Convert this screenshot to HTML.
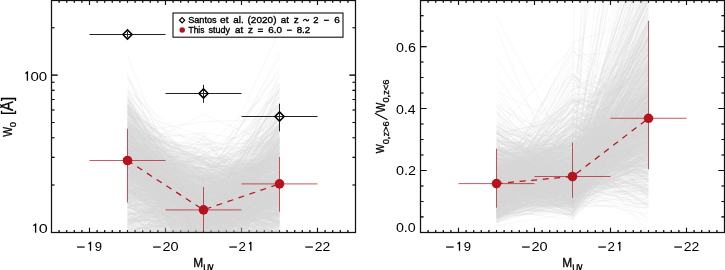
<!DOCTYPE html><html><head><meta charset="utf-8"><style>
html,body{margin:0;padding:0;background:#fff;width:725px;height:270px;overflow:hidden}
svg{display:block;will-change:transform}text{font-family:"Liberation Sans",sans-serif;fill:#000}
</style></head><body>
<svg width="725" height="270" viewBox="0 0 725 270">
<rect width="725" height="270" fill="#fff"/>
<defs>
<clipPath id="c0"><rect x="51.5" y="0.1" width="304.0" height="232.3"/></clipPath>
<clipPath id="g0"><rect x="51.5" y="1" width="304.0" height="231"/></clipPath>
<clipPath id="c1"><rect x="420.5" y="0.1" width="304.0" height="232.3"/></clipPath>
<clipPath id="g1"><rect x="420.5" y="1" width="304.0" height="231"/></clipPath>
</defs>
<path d="M59.10 232.4v-2.3M59.10 0.5v2.3M66.70 232.4v-2.3M66.70 0.5v2.3M74.30 232.4v-2.3M74.30 0.5v2.3M81.90 232.4v-2.3M81.90 0.5v2.3M89.50 232.4v-4.6M89.50 0.5v4.6M97.10 232.4v-2.3M97.10 0.5v2.3M104.70 232.4v-2.3M104.70 0.5v2.3M112.30 232.4v-2.3M112.30 0.5v2.3M119.90 232.4v-2.3M119.90 0.5v2.3M127.50 232.4v-2.3M127.50 0.5v2.3M135.10 232.4v-2.3M135.10 0.5v2.3M142.70 232.4v-2.3M142.70 0.5v2.3M150.30 232.4v-2.3M150.30 0.5v2.3M157.90 232.4v-2.3M157.90 0.5v2.3M165.50 232.4v-4.6M165.50 0.5v4.6M173.10 232.4v-2.3M173.10 0.5v2.3M180.70 232.4v-2.3M180.70 0.5v2.3M188.30 232.4v-2.3M188.30 0.5v2.3M195.90 232.4v-2.3M195.90 0.5v2.3M203.50 232.4v-2.3M203.50 0.5v2.3M211.10 232.4v-2.3M211.10 0.5v2.3M218.70 232.4v-2.3M218.70 0.5v2.3M226.30 232.4v-2.3M226.30 0.5v2.3M233.90 232.4v-2.3M233.90 0.5v2.3M241.50 232.4v-4.6M241.50 0.5v4.6M249.10 232.4v-2.3M249.10 0.5v2.3M256.70 232.4v-2.3M256.70 0.5v2.3M264.30 232.4v-2.3M264.30 0.5v2.3M271.90 232.4v-2.3M271.90 0.5v2.3M279.50 232.4v-2.3M279.50 0.5v2.3M287.10 232.4v-2.3M287.10 0.5v2.3M294.70 232.4v-2.3M294.70 0.5v2.3M302.30 232.4v-2.3M302.30 0.5v2.3M309.90 232.4v-2.3M309.90 0.5v2.3M317.50 232.4v-4.6M317.50 0.5v4.6M325.10 232.4v-2.3M325.10 0.5v2.3M332.70 232.4v-2.3M332.70 0.5v2.3M340.30 232.4v-2.3M340.30 0.5v2.3M347.90 232.4v-2.3M347.90 0.5v2.3M51.5 75.10h6.1M355.5 75.10h-6.1M51.5 185.05h3M355.5 185.05h-3M51.5 157.35h3M355.5 157.35h-3M51.5 137.70h3M355.5 137.70h-3M51.5 122.45h3M355.5 122.45h-3M51.5 110.00h3M355.5 110.00h-3M51.5 99.47h3M355.5 99.47h-3M51.5 90.34h3M355.5 90.34h-3M51.5 82.30h3M355.5 82.30h-3M51.5 27.75h3M355.5 27.75h-3" stroke="#111" stroke-width="1.1" fill="none"/>
<path d="M428.10 232.4v-2.3M428.10 0.5v2.3M435.70 232.4v-2.3M435.70 0.5v2.3M443.30 232.4v-2.3M443.30 0.5v2.3M450.90 232.4v-2.3M450.90 0.5v2.3M458.50 232.4v-4.6M458.50 0.5v4.6M466.10 232.4v-2.3M466.10 0.5v2.3M473.70 232.4v-2.3M473.70 0.5v2.3M481.30 232.4v-2.3M481.30 0.5v2.3M488.90 232.4v-2.3M488.90 0.5v2.3M496.50 232.4v-2.3M496.50 0.5v2.3M504.10 232.4v-2.3M504.10 0.5v2.3M511.70 232.4v-2.3M511.70 0.5v2.3M519.30 232.4v-2.3M519.30 0.5v2.3M526.90 232.4v-2.3M526.90 0.5v2.3M534.50 232.4v-4.6M534.50 0.5v4.6M542.10 232.4v-2.3M542.10 0.5v2.3M549.70 232.4v-2.3M549.70 0.5v2.3M557.30 232.4v-2.3M557.30 0.5v2.3M564.90 232.4v-2.3M564.90 0.5v2.3M572.50 232.4v-2.3M572.50 0.5v2.3M580.10 232.4v-2.3M580.10 0.5v2.3M587.70 232.4v-2.3M587.70 0.5v2.3M595.30 232.4v-2.3M595.30 0.5v2.3M602.90 232.4v-2.3M602.90 0.5v2.3M610.50 232.4v-4.6M610.50 0.5v4.6M618.10 232.4v-2.3M618.10 0.5v2.3M625.70 232.4v-2.3M625.70 0.5v2.3M633.30 232.4v-2.3M633.30 0.5v2.3M640.90 232.4v-2.3M640.90 0.5v2.3M648.50 232.4v-2.3M648.50 0.5v2.3M656.10 232.4v-2.3M656.10 0.5v2.3M663.70 232.4v-2.3M663.70 0.5v2.3M671.30 232.4v-2.3M671.30 0.5v2.3M678.90 232.4v-2.3M678.90 0.5v2.3M686.50 232.4v-4.6M686.50 0.5v4.6M694.10 232.4v-2.3M694.10 0.5v2.3M701.70 232.4v-2.3M701.70 0.5v2.3M709.30 232.4v-2.3M709.30 0.5v2.3M716.90 232.4v-2.3M716.90 0.5v2.3M420.5 170.46h6.1M724.5 170.46h-6.1M420.5 108.52h6.1M724.5 108.52h-6.1M420.5 46.58h6.1M724.5 46.58h-6.1M420.5 216.92h3M724.5 216.92h-3M420.5 201.43h3M724.5 201.43h-3M420.5 185.94h3M724.5 185.94h-3M420.5 154.98h3M724.5 154.98h-3M420.5 139.49h3M724.5 139.49h-3M420.5 124.01h3M724.5 124.01h-3M420.5 93.03h3M724.5 93.03h-3M420.5 77.55h3M724.5 77.55h-3M420.5 62.06h3M724.5 62.06h-3M420.5 31.09h3M724.5 31.09h-3M420.5 15.61h3M724.5 15.61h-3" stroke="#111" stroke-width="1.1" fill="none"/>
<g clip-path="url(#g0)"><path d="M127.5 132.4L203.5 216.2L279.5 203.0M127.5 154.4L203.5 207.7L279.5 195.0M127.5 154.1L203.5 222.9L279.5 160.1M127.5 164.6L203.5 212.3L279.5 197.6M127.5 136.4L203.5 160.3L279.5 234.1M127.5 77.9L203.5 233.7L279.5 127.9M127.5 152.7L203.5 238.5L279.5 202.8M127.5 207.6L203.5 213.0L279.5 127.8M127.5 168.1L203.5 235.2L279.5 175.7M127.5 183.0L203.5 227.1L279.5 163.6M127.5 150.0L203.5 227.1L279.5 210.6M127.5 164.2L203.5 246.8L279.5 181.6M127.5 87.4L203.5 176.3L279.5 196.7M127.5 138.0L203.5 235.2L279.5 186.9M127.5 106.5L203.5 173.0L279.5 166.6M127.5 188.3L203.5 241.9L279.5 196.9M127.5 167.2L203.5 244.2L279.5 152.3M127.5 100.9L203.5 204.2L279.5 228.0M127.5 229.4L203.5 221.2L279.5 217.7M127.5 155.1L203.5 187.0L279.5 168.2M127.5 224.0L203.5 191.9L279.5 164.5M127.5 115.6L203.5 144.2L279.5 142.7M127.5 218.4L203.5 316.6L279.5 120.9M127.5 171.2L203.5 248.9L279.5 167.3M127.5 165.9L203.5 213.5L279.5 155.0M127.5 230.0L203.5 219.5L279.5 174.8M127.5 89.3L203.5 213.8L279.5 178.8M127.5 165.6L203.5 136.3L279.5 187.5M127.5 112.6L203.5 292.3L279.5 180.1M127.5 187.9L203.5 191.8L279.5 201.4M127.5 220.7L203.5 220.1L279.5 189.1M127.5 153.1L203.5 211.7L279.5 152.8M127.5 153.9L203.5 180.0L279.5 164.7M127.5 76.6L203.5 214.1L279.5 138.9M127.5 203.4L203.5 188.5L279.5 198.6M127.5 224.9L203.5 173.9L279.5 195.2M127.5 188.6L203.5 176.7L279.5 167.4M127.5 150.7L203.5 278.5L279.5 210.2M127.5 143.4L203.5 235.2L279.5 211.5M127.5 190.4L203.5 258.5L279.5 160.0M127.5 173.5L203.5 240.1L279.5 193.7M127.5 143.9L203.5 219.0L279.5 150.6M127.5 128.6L203.5 151.1L279.5 181.4M127.5 184.1L203.5 235.2L279.5 198.0M127.5 155.8L203.5 222.9L279.5 216.4M127.5 276.2L203.5 218.4L279.5 137.8M127.5 200.1L203.5 168.1L279.5 187.5M127.5 147.4L203.5 232.4L279.5 212.0M127.5 159.9L203.5 198.7L279.5 230.5M127.5 166.8L203.5 188.0L279.5 223.0M127.5 113.9L203.5 195.3L279.5 197.7M127.5 171.3L203.5 284.9L279.5 137.1M127.5 205.5L203.5 259.3L279.5 213.3M127.5 153.6L203.5 192.5L279.5 174.8M127.5 153.7L203.5 276.2L279.5 177.7M127.5 207.6L203.5 221.4L279.5 286.2M127.5 131.2L203.5 267.2L279.5 224.6M127.5 111.3L203.5 201.3L279.5 154.9M127.5 184.1L203.5 215.3L279.5 248.3M127.5 196.1L203.5 269.3L279.5 142.7M127.5 162.6L203.5 222.9L279.5 186.4M127.5 124.3L203.5 252.0L279.5 237.5M127.5 183.0L203.5 234.0L279.5 113.7M127.5 190.0L203.5 176.8L279.5 190.7M127.5 184.1L203.5 205.2L279.5 125.1M127.5 152.8L203.5 203.6L279.5 179.6M127.5 153.5L203.5 168.6L279.5 209.8M127.5 166.2L203.5 210.4L279.5 143.4M127.5 125.5L203.5 175.2L279.5 116.7M127.5 95.8L203.5 201.9L279.5 137.3M127.5 183.5L203.5 205.6L279.5 223.0M127.5 130.1L203.5 227.1L279.5 163.3M127.5 151.8L203.5 243.8L279.5 222.7M127.5 74.5L203.5 250.9L279.5 205.2M127.5 196.3L203.5 247.2L279.5 134.5M127.5 173.6L203.5 198.2L279.5 230.4M127.5 156.5L203.5 201.5L279.5 88.8M127.5 219.5L203.5 243.9L279.5 234.0M127.5 167.9L203.5 177.7L279.5 226.7M127.5 139.3L203.5 236.7L279.5 158.3M127.5 220.4L203.5 227.9L279.5 193.6M127.5 155.9L203.5 262.8L279.5 191.8M127.5 108.9L203.5 243.7L279.5 215.6M127.5 184.4L203.5 188.0L279.5 159.2M127.5 197.1L203.5 200.5L279.5 179.5M127.5 266.6L203.5 236.4L279.5 190.0M127.5 163.6L203.5 177.5L279.5 212.1M127.5 228.2L203.5 216.2L279.5 233.0M127.5 143.8L203.5 211.2L279.5 187.8M127.5 112.9L203.5 182.6L279.5 253.7M127.5 143.7L203.5 199.8L279.5 207.4M127.5 192.7L203.5 225.6L279.5 163.5M127.5 141.0L203.5 251.2L279.5 161.1M127.5 179.0L203.5 175.9L279.5 200.0M127.5 207.0L203.5 297.0L279.5 265.9M127.5 180.3L203.5 235.8L279.5 166.5M127.5 152.8L203.5 275.6L279.5 153.2M127.5 174.6L203.5 234.6L279.5 185.7M127.5 144.7L203.5 188.7L279.5 137.2M127.5 98.8L203.5 225.7L279.5 147.3M127.5 142.2L203.5 228.9L279.5 238.3M127.5 138.2L203.5 215.6L279.5 194.3M127.5 187.4L203.5 156.5L279.5 202.2M127.5 121.9L203.5 173.5L279.5 125.5M127.5 149.7L203.5 206.5L279.5 145.2M127.5 131.0L203.5 236.4L279.5 183.7M127.5 192.3L203.5 227.8L279.5 165.5M127.5 153.1L203.5 203.2L279.5 152.9M127.5 259.2L203.5 222.1L279.5 208.7M127.5 174.5L203.5 218.0L279.5 192.7M127.5 195.2L203.5 250.4L279.5 190.2M127.5 202.1L203.5 261.6L279.5 200.0M127.5 110.7L203.5 252.3L279.5 197.2M127.5 224.6L203.5 206.1L279.5 178.9M127.5 165.8L203.5 246.0L279.5 226.7M127.5 165.5L203.5 139.8L279.5 222.3M127.5 144.8L203.5 196.6L279.5 156.9M127.5 131.3L203.5 193.7L279.5 127.2M127.5 227.7L203.5 183.7L279.5 113.3M127.5 182.6L203.5 249.5L279.5 240.9M127.5 189.5L203.5 253.9L279.5 173.4M127.5 140.2L203.5 220.6L279.5 212.9M127.5 133.5L203.5 194.9L279.5 203.9M127.5 177.1L203.5 195.9L279.5 194.3M127.5 182.8L203.5 164.3L279.5 172.6M127.5 202.8L203.5 171.2L279.5 166.0M127.5 149.7L203.5 181.0L279.5 261.3M127.5 112.9L203.5 178.3L279.5 205.9M127.5 149.4L203.5 202.9L279.5 145.2M127.5 189.8L203.5 185.7L279.5 183.6M127.5 195.3L203.5 219.9L279.5 236.8M127.5 190.2L203.5 224.6L279.5 217.6M127.5 230.0L203.5 182.7L279.5 212.2M127.5 111.1L203.5 267.3L279.5 148.4M127.5 158.2L203.5 169.2L279.5 118.6M127.5 174.1L203.5 155.9L279.5 221.2M127.5 96.9L203.5 225.7L279.5 168.6M127.5 154.0L203.5 187.2L279.5 196.6M127.5 118.2L203.5 203.6L279.5 166.1M127.5 152.6L203.5 242.3L279.5 195.0M127.5 129.1L203.5 197.6L279.5 222.2M127.5 158.3L203.5 192.9L279.5 207.8M127.5 175.8L203.5 178.9L279.5 208.1M127.5 148.7L203.5 218.9L279.5 131.0M127.5 140.0L203.5 203.8L279.5 211.1M127.5 129.5L203.5 228.6L279.5 167.2M127.5 154.6L203.5 178.9L279.5 213.9M127.5 170.8L203.5 210.7L279.5 208.6M127.5 176.0L203.5 183.0L279.5 180.5M127.5 151.6L203.5 230.8L279.5 205.7M127.5 180.9L203.5 204.2L279.5 111.0M127.5 174.1L203.5 238.6L279.5 136.9M127.5 145.0L203.5 233.1L279.5 222.8M127.5 143.7L203.5 175.9L279.5 169.1M127.5 146.1L203.5 213.6L279.5 129.3M127.5 191.9L203.5 210.1L279.5 225.1M127.5 221.5L203.5 186.7L279.5 200.7M127.5 152.6L203.5 235.5L279.5 130.4M127.5 157.1L203.5 152.1L279.5 213.5M127.5 176.3L203.5 234.2L279.5 164.4M127.5 154.5L203.5 220.9L279.5 190.7M127.5 136.3L203.5 145.4L279.5 182.5M127.5 168.8L203.5 267.2L279.5 219.9M127.5 149.1L203.5 157.2L279.5 190.5M127.5 201.8L203.5 196.6L279.5 201.6M127.5 169.6L203.5 193.0L279.5 119.2M127.5 195.6L203.5 243.9L279.5 164.0M127.5 221.8L203.5 202.8L279.5 185.0M127.5 148.1L203.5 251.5L279.5 189.0M127.5 280.9L203.5 179.3L279.5 162.2M127.5 163.0L203.5 216.1L279.5 237.2M127.5 138.4L203.5 230.3L279.5 219.1M127.5 149.2L203.5 224.6L279.5 216.5M127.5 226.2L203.5 213.1L279.5 212.9M127.5 153.7L203.5 180.3L279.5 238.7M127.5 238.2L203.5 197.7L279.5 169.3M127.5 198.0L203.5 234.6L279.5 203.0M127.5 120.0L203.5 238.4L279.5 139.8M127.5 156.0L203.5 244.0L279.5 192.3M127.5 127.2L203.5 185.8L279.5 199.9M127.5 207.1L203.5 194.8L279.5 172.4M127.5 248.8L203.5 247.0L279.5 172.7M127.5 192.4L203.5 265.0L279.5 197.4M127.5 124.3L203.5 210.5L279.5 166.9M127.5 134.4L203.5 228.6L279.5 139.7M127.5 130.2L203.5 193.8L279.5 202.4M127.5 166.8L203.5 212.9L279.5 138.3M127.5 164.3L203.5 198.3L279.5 194.6M127.5 169.0L203.5 186.0L279.5 155.4M127.5 78.4L203.5 179.3L279.5 190.0M127.5 158.0L203.5 216.4L279.5 200.4M127.5 110.5L203.5 188.7L279.5 178.1M127.5 167.9L203.5 228.9L279.5 222.7M127.5 121.4L203.5 251.1L279.5 237.3M127.5 206.3L203.5 202.8L279.5 189.9M127.5 181.6L203.5 175.1L279.5 196.1M127.5 150.3L203.5 168.9L279.5 222.7M127.5 184.5L203.5 211.5L279.5 105.4M127.5 177.6L203.5 269.3L279.5 173.8M127.5 167.0L203.5 200.3L279.5 210.7M127.5 183.1L203.5 216.9L279.5 169.5M127.5 116.3L203.5 191.9L279.5 168.4M127.5 128.2L203.5 179.1L279.5 200.5M127.5 219.5L203.5 224.8L279.5 196.0M127.5 111.6L203.5 234.4L279.5 245.1M127.5 161.6L203.5 223.3L279.5 181.1M127.5 161.2L203.5 233.5L279.5 114.8M127.5 167.0L203.5 244.4L279.5 144.3M127.5 135.4L203.5 203.8L279.5 148.5M127.5 140.0L203.5 235.5L279.5 206.4M127.5 182.1L203.5 219.8L279.5 221.4M127.5 158.6L203.5 221.6L279.5 154.8M127.5 215.4L203.5 231.3L279.5 178.2M127.5 107.5L203.5 193.0L279.5 194.7M127.5 196.0L203.5 226.3L279.5 198.2M127.5 197.5L203.5 213.2L279.5 152.5M127.5 190.2L203.5 187.6L279.5 165.0M127.5 156.0L203.5 215.4L279.5 202.9M127.5 138.7L203.5 260.9L279.5 192.1M127.5 174.7L203.5 226.9L279.5 239.2M127.5 159.2L203.5 227.0L279.5 224.3M127.5 174.0L203.5 192.6L279.5 167.4M127.5 123.3L203.5 163.5L279.5 202.6M127.5 153.4L203.5 204.9L279.5 214.9M127.5 231.6L203.5 215.3L279.5 179.3M127.5 118.0L203.5 169.2L279.5 139.7M127.5 150.3L203.5 234.8L279.5 214.1M127.5 105.2L203.5 202.1L279.5 198.5M127.5 185.4L203.5 197.1L279.5 196.5M127.5 180.4L203.5 212.5L279.5 92.8M127.5 166.8L203.5 217.2L279.5 149.4M127.5 219.1L203.5 205.6L279.5 179.5M127.5 175.0L203.5 167.8L279.5 231.8M127.5 124.1L203.5 194.5L279.5 159.8M127.5 139.8L203.5 231.4L279.5 167.3M127.5 261.6L203.5 202.5L279.5 194.6M127.5 123.2L203.5 183.5L279.5 211.4M127.5 149.5L203.5 160.4L279.5 202.3M127.5 136.4L203.5 187.9L279.5 238.6M127.5 158.5L203.5 205.2L279.5 200.4M127.5 154.3L203.5 171.7L279.5 202.6M127.5 158.0L203.5 185.7L279.5 216.1M127.5 158.2L203.5 206.6L279.5 198.5M127.5 203.2L203.5 233.7L279.5 236.5M127.5 130.1L203.5 208.3L279.5 145.2M127.5 153.5L203.5 183.9L279.5 193.6M127.5 148.7L203.5 247.7L279.5 224.5M127.5 149.8L203.5 266.0L279.5 159.7M127.5 172.1L203.5 196.3L279.5 168.1M127.5 161.6L203.5 263.8L279.5 203.9M127.5 216.0L203.5 255.8L279.5 228.7M127.5 152.2L203.5 218.1L279.5 190.8M127.5 151.8L203.5 219.3L279.5 171.9M127.5 169.4L203.5 209.4L279.5 164.9M127.5 232.2L203.5 206.4L279.5 153.8M127.5 121.8L203.5 196.2L279.5 156.5M127.5 166.5L203.5 214.9L279.5 233.5M127.5 160.2L203.5 239.9L279.5 185.3M127.5 172.4L203.5 308.8L279.5 245.4M127.5 184.5L203.5 176.3L279.5 152.0M127.5 176.4L203.5 189.2L279.5 174.4M127.5 206.4L203.5 193.8L279.5 152.7M127.5 184.0L203.5 212.6L279.5 187.8M127.5 101.2L203.5 242.2L279.5 189.1M127.5 126.1L203.5 198.1L279.5 205.4M127.5 102.9L203.5 214.5L279.5 272.8M127.5 185.5L203.5 258.8L279.5 195.1M127.5 239.5L203.5 182.8L279.5 88.4M127.5 217.1L203.5 261.1L279.5 139.6M127.5 271.2L203.5 227.1L279.5 195.6M127.5 128.9L203.5 162.2L279.5 177.5M127.5 124.8L203.5 240.1L279.5 172.7M127.5 156.6L203.5 206.8L279.5 206.4M127.5 148.9L203.5 182.1L279.5 188.9M127.5 149.2L203.5 212.3L279.5 176.7M127.5 164.0L203.5 261.0L279.5 203.8M127.5 138.9L203.5 229.5L279.5 172.0M127.5 202.2L203.5 214.3L279.5 141.3M127.5 177.9L203.5 264.3L279.5 157.1M127.5 165.3L203.5 171.9L279.5 179.2M127.5 231.4L203.5 203.3L279.5 193.7M127.5 201.9L203.5 192.3L279.5 161.2M127.5 147.3L203.5 204.8L279.5 204.6M127.5 149.8L203.5 201.7L279.5 207.6M127.5 264.0L203.5 225.3L279.5 139.4M127.5 133.7L203.5 263.7L279.5 199.5M127.5 149.7L203.5 193.5L279.5 229.1M127.5 137.8L203.5 211.9L279.5 156.0M127.5 161.9L203.5 168.4L279.5 161.1M127.5 143.0L203.5 253.2L279.5 145.1M127.5 214.1L203.5 208.0L279.5 191.2M127.5 168.2L203.5 151.3L279.5 144.1M127.5 204.4L203.5 259.4L279.5 192.0M127.5 181.1L203.5 254.2L279.5 218.4M127.5 126.4L203.5 206.3L279.5 193.4M127.5 113.5L203.5 164.9L279.5 179.2M127.5 158.7L203.5 254.4L279.5 220.6M127.5 177.9L203.5 211.4L279.5 193.4M127.5 137.5L203.5 219.8L279.5 179.2M127.5 146.6L203.5 232.8L279.5 200.6M127.5 105.3L203.5 222.3L279.5 185.4M127.5 141.8L203.5 178.5L279.5 188.6M127.5 258.6L203.5 209.1L279.5 211.9M127.5 157.9L203.5 259.1L279.5 175.5M127.5 172.8L203.5 235.1L279.5 166.0M127.5 193.3L203.5 210.5L279.5 247.7M127.5 155.8L203.5 262.2L279.5 207.8M127.5 158.0L203.5 237.8L279.5 156.2M127.5 174.1L203.5 227.9L279.5 170.6M127.5 117.0L203.5 286.6L279.5 244.0M127.5 149.1L203.5 161.0L279.5 178.9M127.5 148.2L203.5 269.9L279.5 132.9M127.5 155.1L203.5 212.0L279.5 153.5M127.5 125.1L203.5 220.2L279.5 157.6M127.5 206.4L203.5 235.0L279.5 190.1M127.5 125.4L203.5 179.2L279.5 184.4M127.5 169.2L203.5 212.1L279.5 221.0M127.5 117.5L203.5 243.0L279.5 186.1M127.5 119.4L203.5 180.3L279.5 96.6M127.5 145.5L203.5 197.9L279.5 187.2M127.5 178.4L203.5 250.0L279.5 214.0M127.5 151.7L203.5 266.9L279.5 166.5M127.5 149.6L203.5 188.5L279.5 247.3M127.5 221.0L203.5 219.0L279.5 97.4M127.5 172.9L203.5 264.7L279.5 162.5M127.5 188.8L203.5 197.9L279.5 194.1M127.5 120.8L203.5 263.9L279.5 197.1M127.5 111.5L203.5 238.1L279.5 213.3M127.5 189.9L203.5 242.6L279.5 182.1M127.5 181.4L203.5 282.7L279.5 184.9M127.5 215.1L203.5 194.0L279.5 232.5M127.5 152.2L203.5 114.2L279.5 147.3M127.5 136.7L203.5 195.2L279.5 196.6M127.5 108.9L203.5 201.8L279.5 218.5M127.5 213.6L203.5 223.0L279.5 149.4M127.5 133.4L203.5 216.4L279.5 156.9M127.5 165.4L203.5 205.4L279.5 202.9M127.5 189.7L203.5 195.6L279.5 205.2M127.5 173.9L203.5 231.3L279.5 143.1M127.5 191.6L203.5 212.4L279.5 197.5M127.5 147.1L203.5 221.1L279.5 178.1M127.5 159.7L203.5 197.1L279.5 132.0M127.5 126.2L203.5 186.1L279.5 221.8M127.5 181.7L203.5 181.5L279.5 230.5M127.5 238.5L203.5 228.5L279.5 210.8M127.5 201.3L203.5 229.7L279.5 202.7M127.5 150.1L203.5 192.7L279.5 184.4M127.5 221.9L203.5 221.7L279.5 147.1M127.5 191.2L203.5 219.9L279.5 198.0M127.5 144.7L203.5 198.8L279.5 118.8M127.5 217.5L203.5 201.0L279.5 176.8M127.5 136.1L203.5 174.1L279.5 244.3M127.5 150.3L203.5 254.1L279.5 186.0M127.5 184.2L203.5 179.6L279.5 157.0M127.5 161.4L203.5 227.9L279.5 141.7M127.5 180.7L203.5 192.2L279.5 206.1M127.5 176.3L203.5 256.4L279.5 187.8M127.5 173.4L203.5 216.0L279.5 97.1M127.5 159.4L203.5 232.9L279.5 178.9M127.5 163.4L203.5 160.9L279.5 212.2M127.5 191.1L203.5 244.2L279.5 230.1M127.5 201.1L203.5 178.7L279.5 197.7M127.5 101.6L203.5 239.2L279.5 170.1M127.5 206.2L203.5 249.9L279.5 217.6M127.5 166.1L203.5 202.1L279.5 131.1M127.5 126.1L203.5 180.8L279.5 206.9M127.5 132.0L203.5 213.1L279.5 241.4M127.5 190.4L203.5 193.8L279.5 158.9M127.5 103.4L203.5 204.0L279.5 183.0M127.5 110.2L203.5 212.8L279.5 191.2M127.5 173.0L203.5 171.3L279.5 134.0M127.5 212.0L203.5 210.6L279.5 202.2M127.5 142.2L203.5 185.9L279.5 156.5M127.5 167.4L203.5 250.7L279.5 200.1M127.5 172.0L203.5 217.1L279.5 119.7M127.5 193.9L203.5 183.7L279.5 183.9M127.5 185.0L203.5 226.4L279.5 183.0M127.5 155.4L203.5 284.7L279.5 160.7M127.5 134.6L203.5 189.0L279.5 186.4M127.5 247.3L203.5 193.8L279.5 166.0M127.5 260.3L203.5 220.2L279.5 191.0M127.5 132.8L203.5 207.0L279.5 159.4M127.5 195.5L203.5 221.7L279.5 181.3M127.5 140.5L203.5 199.1L279.5 200.0M127.5 157.0L203.5 178.7L279.5 161.4M127.5 124.8L203.5 201.1L279.5 165.2M127.5 134.3L203.5 213.0L279.5 215.6M127.5 171.4L203.5 226.7L279.5 192.8M127.5 166.5L203.5 215.4L279.5 233.9M127.5 151.0L203.5 227.2L279.5 179.5M127.5 139.0L203.5 182.3L279.5 150.8M127.5 186.2L203.5 246.4L279.5 88.4M127.5 223.9L203.5 229.9L279.5 172.3M127.5 157.1L203.5 199.8L279.5 142.5M127.5 161.5L203.5 200.2L279.5 125.7M127.5 166.3L203.5 202.5L279.5 155.0M127.5 202.0L203.5 224.2L279.5 239.3M127.5 142.9L203.5 203.9L279.5 197.5M127.5 232.8L203.5 259.0L279.5 170.2M127.5 180.2L203.5 262.3L279.5 171.8M127.5 123.5L203.5 253.9L279.5 178.7M127.5 206.7L203.5 198.7L279.5 210.5M127.5 148.2L203.5 170.7L279.5 239.4M127.5 147.2L203.5 224.2L279.5 168.8M127.5 147.9L203.5 228.6L279.5 138.1M127.5 230.5L203.5 219.3L279.5 197.9M127.5 131.4L203.5 157.9L279.5 161.8M127.5 155.9L203.5 203.0L279.5 199.5M127.5 146.0L203.5 206.2L279.5 187.9M127.5 151.3L203.5 228.3L279.5 200.8M127.5 158.2L203.5 194.8L279.5 151.1M127.5 125.4L203.5 172.0L279.5 211.0M127.5 119.3L203.5 203.4L279.5 177.8M127.5 238.2L203.5 236.5L279.5 147.9M127.5 192.4L203.5 171.6L279.5 184.2M127.5 166.5L203.5 209.4L279.5 220.1M127.5 251.3L203.5 158.3L279.5 168.2M127.5 118.5L203.5 244.9L279.5 189.0M127.5 192.2L203.5 213.5L279.5 221.9M127.5 143.9L203.5 201.2L279.5 189.1M127.5 153.6L203.5 269.1L279.5 192.4M127.5 168.5L203.5 206.0L279.5 159.6M127.5 202.0L203.5 191.4L279.5 198.0M127.5 174.6L203.5 212.9L279.5 179.7M127.5 157.2L203.5 196.3L279.5 159.9M127.5 137.6L203.5 203.8L279.5 240.3M127.5 167.9L203.5 237.8L279.5 145.2M127.5 176.0L203.5 188.4L279.5 183.0M127.5 169.7L203.5 234.7L279.5 213.4M127.5 122.9L203.5 219.2L279.5 178.4M127.5 151.5L203.5 234.4L279.5 143.2M127.5 187.7L203.5 191.0L279.5 204.2M127.5 212.6L203.5 225.2L279.5 200.2M127.5 176.6L203.5 225.4L279.5 130.3M127.5 197.8L203.5 283.1L279.5 122.5M127.5 177.0L203.5 218.7L279.5 106.1M127.5 121.3L203.5 181.1L279.5 182.0M127.5 140.1L203.5 281.2L279.5 211.9M127.5 153.2L203.5 198.9L279.5 212.1M127.5 148.3L203.5 210.6L279.5 193.4M127.5 111.0L203.5 269.2L279.5 213.3M127.5 207.4L203.5 223.7L279.5 166.6M127.5 147.1L203.5 182.6L279.5 134.2M127.5 167.9L203.5 209.7L279.5 215.4M127.5 155.7L203.5 199.5L279.5 125.9M127.5 157.6L203.5 178.1L279.5 210.6M127.5 172.6L203.5 220.4L279.5 204.4M127.5 144.4L203.5 185.0L279.5 224.6M127.5 250.7L203.5 252.3L279.5 155.1M127.5 151.5L203.5 239.0L279.5 186.2M127.5 140.5L203.5 168.5L279.5 182.6M127.5 199.6L203.5 171.1L279.5 269.7M127.5 200.5L203.5 182.9L279.5 201.4M127.5 105.8L203.5 260.8L279.5 171.8M127.5 197.1L203.5 216.8L279.5 265.5M127.5 175.2L203.5 239.6L279.5 107.1M127.5 191.9L203.5 155.1L279.5 171.1M127.5 185.1L203.5 255.3L279.5 140.8M127.5 187.6L203.5 252.7L279.5 192.7M127.5 248.5L203.5 229.3L279.5 147.7M127.5 92.6L203.5 199.7L279.5 133.1M127.5 189.9L203.5 228.7L279.5 82.9M127.5 149.0L203.5 219.1L279.5 214.1M127.5 162.6L203.5 200.5L279.5 101.3M127.5 121.7L203.5 208.0L279.5 214.9M127.5 140.2L203.5 273.1L279.5 176.0M127.5 127.9L203.5 251.7L279.5 194.2M127.5 126.9L203.5 162.8L279.5 187.6M127.5 136.1L203.5 207.4L279.5 239.9M127.5 158.8L203.5 157.6L279.5 190.9M127.5 134.1L203.5 167.6L279.5 217.9M127.5 226.6L203.5 177.4L279.5 188.1M127.5 134.8L203.5 206.7L279.5 171.2M127.5 140.1L203.5 165.3L279.5 178.9M127.5 151.2L203.5 223.6L279.5 185.0M127.5 215.6L203.5 145.4L279.5 126.7M127.5 122.2L203.5 191.6L279.5 168.1M127.5 187.8L203.5 191.3L279.5 157.6M127.5 142.2L203.5 220.7L279.5 128.4M127.5 237.4L203.5 226.8L279.5 183.4M127.5 166.9L203.5 215.6L279.5 176.7M127.5 186.7L203.5 224.7L279.5 154.6M127.5 192.2L203.5 236.6L279.5 189.6M127.5 187.5L203.5 243.7L279.5 131.8M127.5 109.8L203.5 201.7L279.5 200.4M127.5 160.9L203.5 173.6L279.5 187.9M127.5 150.3L203.5 151.9L279.5 185.8M127.5 99.8L203.5 185.4L279.5 191.1M127.5 219.9L203.5 209.7L279.5 181.5M127.5 116.8L203.5 189.4L279.5 195.9M127.5 175.1L203.5 158.7L279.5 252.6M127.5 186.0L203.5 202.7L279.5 136.0M127.5 176.8L203.5 178.1L279.5 194.8M127.5 235.9L203.5 195.4L279.5 152.5M127.5 224.3L203.5 202.5L279.5 214.0M127.5 207.4L203.5 224.8L279.5 158.6M127.5 183.2L203.5 186.1L279.5 220.6M127.5 139.8L203.5 233.7L279.5 124.6M127.5 129.4L203.5 239.6L279.5 186.3M127.5 175.1L203.5 196.5L279.5 195.6M127.5 149.5L203.5 178.8L279.5 267.6M127.5 147.7L203.5 180.1L279.5 250.2M127.5 169.3L203.5 182.5L279.5 197.8M127.5 153.6L203.5 215.7L279.5 201.9M127.5 184.5L203.5 209.8L279.5 201.8M127.5 144.4L203.5 174.7L279.5 198.7M127.5 169.2L203.5 148.3L279.5 145.6M127.5 158.9L203.5 297.5L279.5 195.6M127.5 152.8L203.5 172.2L279.5 195.6M127.5 155.9L203.5 200.0L279.5 206.0M127.5 190.0L203.5 207.8L279.5 215.7M127.5 216.7L203.5 230.8L279.5 169.3M127.5 162.6L203.5 227.3L279.5 196.5M127.5 183.7L203.5 246.9L279.5 195.1M127.5 182.2L203.5 199.0L279.5 172.4M127.5 164.2L203.5 239.2L279.5 181.5M127.5 189.8L203.5 212.2L279.5 153.0M127.5 147.5L203.5 257.5L279.5 154.7M127.5 148.8L203.5 173.3L279.5 222.2M127.5 197.8L203.5 187.7L279.5 207.3M127.5 149.7L203.5 246.1L279.5 146.0M127.5 200.4L203.5 194.0L279.5 195.2M127.5 139.8L203.5 219.8L279.5 159.0M127.5 142.7L203.5 236.1L279.5 210.0M127.5 160.5L203.5 205.0L279.5 256.2M127.5 135.1L203.5 183.4L279.5 249.2M127.5 131.4L203.5 164.7L279.5 204.4M127.5 147.7L203.5 199.5L279.5 196.5M127.5 237.4L203.5 174.2L279.5 91.4M127.5 156.5L203.5 188.0L279.5 153.9M127.5 154.6L203.5 188.1L279.5 155.7M127.5 137.5L203.5 179.6L279.5 147.1M127.5 201.6L203.5 253.2L279.5 231.0M127.5 140.4L203.5 220.2L279.5 180.6M127.5 150.3L203.5 165.2L279.5 186.2M127.5 148.8L203.5 252.6L279.5 105.5M127.5 212.5L203.5 235.6L279.5 203.8M127.5 196.7L203.5 154.3L279.5 226.4M127.5 128.4L203.5 241.9L279.5 179.5M127.5 137.0L203.5 204.0L279.5 188.4M127.5 163.7L203.5 200.0L279.5 178.4M127.5 129.8L203.5 217.1L279.5 172.9M127.5 152.9L203.5 181.5L279.5 175.8M127.5 177.8L203.5 183.4L279.5 201.4M127.5 226.9L203.5 231.2L279.5 195.5M127.5 131.9L203.5 158.7L279.5 91.0M127.5 166.2L203.5 235.6L279.5 200.8M127.5 153.8L203.5 222.9L279.5 161.7M127.5 236.2L203.5 212.6L279.5 211.9M127.5 183.3L203.5 202.6L279.5 233.2M127.5 152.2L203.5 246.0L279.5 145.9M127.5 170.8L203.5 201.7L279.5 173.2M127.5 191.5L203.5 284.0L279.5 128.6M127.5 207.4L203.5 225.7L279.5 138.7M127.5 154.7L203.5 239.8L279.5 169.9M127.5 176.1L203.5 233.4L279.5 202.9M127.5 174.9L203.5 212.3L279.5 103.4M127.5 172.9L203.5 202.9L279.5 176.0M127.5 187.9L203.5 235.4L279.5 94.2M127.5 174.6L203.5 209.3L279.5 150.2M127.5 186.6L203.5 261.7L279.5 141.5M127.5 159.9L203.5 223.3L279.5 152.6M127.5 218.6L203.5 184.3L279.5 158.4M127.5 207.0L203.5 234.1L279.5 184.2M127.5 160.0L203.5 221.3L279.5 84.3M127.5 167.8L203.5 211.5L279.5 204.2M127.5 156.4L203.5 188.0L279.5 222.7M127.5 104.3L203.5 200.4L279.5 163.8M127.5 139.8L203.5 216.6L279.5 196.9M127.5 129.1L203.5 245.2L279.5 137.1M127.5 149.1L203.5 204.1L279.5 182.4M127.5 165.8L203.5 309.4L279.5 129.1M127.5 194.4L203.5 199.2L279.5 171.5M127.5 239.1L203.5 236.8L279.5 200.6M127.5 220.4L203.5 193.1L279.5 187.1M127.5 259.2L203.5 213.5L279.5 148.1M127.5 208.0L203.5 173.5L279.5 195.9M127.5 227.7L203.5 233.2L279.5 202.4M127.5 201.6L203.5 278.9L279.5 182.8M127.5 161.7L203.5 210.6L279.5 163.5M127.5 178.1L203.5 228.2L279.5 127.7M127.5 136.0L203.5 214.8L279.5 159.2M127.5 135.5L203.5 178.2L279.5 142.3M127.5 132.1L203.5 242.3L279.5 183.3M127.5 136.7L203.5 192.5L279.5 103.9M127.5 153.3L203.5 186.6L279.5 90.6M127.5 182.4L203.5 181.5L279.5 197.3M127.5 148.1L203.5 279.5L279.5 166.6M127.5 171.3L203.5 207.1L279.5 180.9M127.5 169.3L203.5 235.1L279.5 163.6M127.5 149.3L203.5 219.5L279.5 187.2M127.5 206.8L203.5 239.3L279.5 198.9M127.5 229.3L203.5 222.7L279.5 216.6M127.5 151.7L203.5 185.1L279.5 193.2M127.5 110.9L203.5 163.5L279.5 175.7M127.5 129.3L203.5 191.9L279.5 136.0M127.5 55.3L203.5 253.4L279.5 154.3M127.5 219.8L203.5 176.5L279.5 190.6M127.5 188.0L203.5 253.5L279.5 197.9M127.5 257.6L203.5 224.3L279.5 223.0M127.5 197.0L203.5 179.8L279.5 149.9M127.5 107.6L203.5 231.5L279.5 173.1M127.5 115.5L203.5 191.3L279.5 153.2M127.5 203.5L203.5 220.5L279.5 147.4M127.5 174.3L203.5 250.7L279.5 155.6M127.5 195.4L203.5 205.3L279.5 180.9M127.5 217.3L203.5 229.7L279.5 187.4M127.5 171.0L203.5 162.2L279.5 208.5M127.5 174.6L203.5 160.0L279.5 197.8M127.5 158.1L203.5 167.5L279.5 160.8M127.5 153.4L203.5 246.0L279.5 89.5M127.5 141.1L203.5 158.3L279.5 191.2M127.5 122.2L203.5 202.4L279.5 168.6M127.5 164.0L203.5 196.9L279.5 53.1M127.5 169.5L203.5 205.5L279.5 174.1M127.5 160.5L203.5 229.8L279.5 189.6M127.5 148.2L203.5 207.3L279.5 177.7M127.5 166.2L203.5 186.4L279.5 187.0M127.5 202.3L203.5 167.8L279.5 237.2M127.5 182.6L203.5 195.0L279.5 146.3M127.5 140.0L203.5 210.6L279.5 233.1M127.5 204.0L203.5 227.4L279.5 197.3M127.5 137.9L203.5 221.9L279.5 193.6M127.5 219.3L203.5 165.6L279.5 162.8M127.5 143.6L203.5 191.7L279.5 187.8M127.5 144.2L203.5 204.4L279.5 195.8M127.5 169.6L203.5 267.1L279.5 207.6M127.5 161.7L203.5 271.3L279.5 172.3M127.5 170.5L203.5 192.0L279.5 192.6M127.5 113.6L203.5 193.3L279.5 204.1M127.5 179.1L203.5 179.7L279.5 222.7M127.5 191.4L203.5 205.3L279.5 208.9M127.5 150.1L203.5 233.4L279.5 177.5M127.5 129.6L203.5 269.5L279.5 230.1M127.5 151.3L203.5 242.5L279.5 178.4M127.5 166.9L203.5 290.3L279.5 180.5M127.5 132.0L203.5 202.6L279.5 139.2M127.5 192.6L203.5 197.7L279.5 204.6M127.5 193.5L203.5 172.5L279.5 213.4M127.5 212.7L203.5 273.6L279.5 187.6M127.5 126.8L203.5 259.6L279.5 196.3M127.5 253.6L203.5 193.8L279.5 262.3M127.5 214.8L203.5 201.8L279.5 138.8M127.5 153.8L203.5 280.0L279.5 176.1M127.5 149.3L203.5 235.6L279.5 180.1M127.5 112.0L203.5 208.4L279.5 209.3M127.5 148.8L203.5 224.7L279.5 171.4M127.5 181.5L203.5 200.7L279.5 193.8M127.5 122.0L203.5 210.4L279.5 123.6M127.5 130.8L203.5 230.7L279.5 158.4M127.5 128.3L203.5 200.5L279.5 130.0M127.5 130.8L203.5 214.3L279.5 221.7M127.5 146.4L203.5 178.7L279.5 211.3M127.5 221.7L203.5 261.3L279.5 197.6M127.5 205.0L203.5 219.6L279.5 203.6M127.5 105.6L203.5 234.9L279.5 122.9M127.5 159.5L203.5 220.1L279.5 171.4M127.5 237.9L203.5 200.0L279.5 217.0M127.5 159.2L203.5 193.2L279.5 193.1M127.5 133.8L203.5 285.2L279.5 114.1M127.5 149.7L203.5 178.8L279.5 194.3M127.5 160.3L203.5 196.2L279.5 161.6M127.5 258.2L203.5 196.6L279.5 236.1M127.5 159.1L203.5 209.4L279.5 201.8M127.5 166.5L203.5 184.7L279.5 189.8M127.5 113.9L203.5 199.7L279.5 192.8M127.5 160.7L203.5 273.4L279.5 185.2M127.5 163.0L203.5 234.6L279.5 171.9M127.5 179.4L203.5 220.4L279.5 140.8M127.5 166.0L203.5 224.2L279.5 237.0M127.5 153.2L203.5 227.2L279.5 183.2M127.5 182.3L203.5 194.3L279.5 158.0M127.5 198.0L203.5 250.2L279.5 176.5M127.5 212.9L203.5 237.5L279.5 140.9M127.5 157.6L203.5 245.9L279.5 189.1M127.5 175.8L203.5 212.8L279.5 198.0M127.5 174.3L203.5 199.0L279.5 209.7M127.5 224.7L203.5 242.9L279.5 150.1M127.5 195.0L203.5 200.5L279.5 223.4M127.5 240.5L203.5 230.6L279.5 198.1M127.5 134.2L203.5 171.8L279.5 186.6M127.5 127.9L203.5 288.9L279.5 161.8M127.5 149.5L203.5 212.3L279.5 194.1M127.5 165.9L203.5 179.1L279.5 213.4M127.5 147.9L203.5 224.5L279.5 163.2M127.5 223.5L203.5 249.9L279.5 219.5M127.5 216.8L203.5 241.7L279.5 207.3M127.5 128.1L203.5 195.8L279.5 245.3M127.5 204.8L203.5 230.5L279.5 179.7M127.5 163.4L203.5 181.5L279.5 181.3M127.5 189.4L203.5 209.9L279.5 237.9M127.5 263.7L203.5 230.7L279.5 193.1M127.5 189.6L203.5 226.7L279.5 165.4M127.5 138.0L203.5 197.8L279.5 206.4M127.5 124.4L203.5 182.4L279.5 236.1M127.5 267.2L203.5 239.2L279.5 189.6M127.5 227.2L203.5 252.2L279.5 163.8M127.5 185.6L203.5 251.7L279.5 242.0M127.5 133.2L203.5 197.6L279.5 154.5M127.5 126.8L203.5 159.5L279.5 188.9M127.5 116.6L203.5 229.1L279.5 151.9M127.5 113.9L203.5 191.8L279.5 217.7M127.5 179.1L203.5 224.7L279.5 151.4M127.5 202.8L203.5 184.6L279.5 175.4M127.5 135.2L203.5 262.2L279.5 157.2M127.5 171.9L203.5 193.9L279.5 184.7M127.5 160.2L203.5 256.0L279.5 149.4M127.5 176.3L203.5 240.2L279.5 191.8M127.5 177.7L203.5 201.3L279.5 199.7M127.5 135.4L203.5 219.1L279.5 217.4M127.5 203.7L203.5 213.2L279.5 233.1M127.5 234.7L203.5 195.8L279.5 184.7M127.5 190.7L203.5 205.0L279.5 196.8M127.5 158.3L203.5 168.4L279.5 189.9M127.5 174.2L203.5 189.2L279.5 195.2M127.5 167.3L203.5 240.3L279.5 174.2M127.5 245.2L203.5 213.2L279.5 185.4M127.5 198.5L203.5 229.8L279.5 204.3M127.5 131.1L203.5 224.7L279.5 158.2M127.5 168.8L203.5 160.1L279.5 105.3M127.5 190.3L203.5 237.7L279.5 212.7M127.5 129.8L203.5 174.4L279.5 199.6M127.5 185.5L203.5 167.8L279.5 165.8M127.5 140.4L203.5 133.1L279.5 208.0M127.5 155.5L203.5 210.2L279.5 147.3M127.5 150.2L203.5 203.0L279.5 206.5M127.5 132.5L203.5 201.8L279.5 221.8M127.5 98.4L203.5 223.0L279.5 214.2M127.5 125.8L203.5 160.0L279.5 145.6M127.5 197.9L203.5 154.7L279.5 245.9M127.5 209.0L203.5 289.9L279.5 181.6M127.5 176.0L203.5 221.4L279.5 249.4M127.5 169.6L203.5 176.5L279.5 157.4M127.5 142.2L203.5 246.2L279.5 170.3M127.5 161.0L203.5 234.5L279.5 159.8M127.5 156.2L203.5 209.5L279.5 101.7M127.5 234.2L203.5 211.0L279.5 186.6M127.5 164.5L203.5 216.9L279.5 138.9M127.5 147.0L203.5 215.4L279.5 160.5M127.5 114.0L203.5 159.0L279.5 142.4M127.5 139.7L203.5 291.2L279.5 205.5M127.5 159.2L203.5 228.4L279.5 138.7M127.5 212.4L203.5 250.5L279.5 191.9M127.5 162.8L203.5 203.8L279.5 123.8M127.5 162.4L203.5 226.2L279.5 144.3M127.5 168.5L203.5 196.9L279.5 178.1M127.5 157.6L203.5 210.4L279.5 157.1M127.5 147.7L203.5 144.9L279.5 159.0M127.5 149.4L203.5 256.6L279.5 170.7M127.5 99.2L203.5 227.6L279.5 74.7M127.5 204.0L203.5 185.6L279.5 205.1M127.5 229.0L203.5 224.1L279.5 220.8M127.5 151.0L203.5 206.3L279.5 219.5M127.5 214.7L203.5 264.2L279.5 187.3M127.5 171.6L203.5 190.3L279.5 180.4M127.5 166.3L203.5 215.3L279.5 151.7M127.5 197.1L203.5 194.6L279.5 139.6M127.5 139.8L203.5 243.0L279.5 168.4M127.5 144.0L203.5 230.2L279.5 172.1M127.5 158.3L203.5 241.1L279.5 207.1M127.5 145.1L203.5 163.5L279.5 138.4M127.5 137.7L203.5 272.4L279.5 123.6M127.5 176.1L203.5 198.8L279.5 182.0M127.5 145.5L203.5 203.7L279.5 149.2M127.5 158.4L203.5 174.7L279.5 197.7M127.5 163.2L203.5 203.0L279.5 178.0M127.5 182.8L203.5 247.4L279.5 173.1M127.5 113.2L203.5 196.4L279.5 143.3M127.5 153.1L203.5 271.8L279.5 222.0M127.5 223.2L203.5 180.9L279.5 174.6M127.5 148.4L203.5 215.2L279.5 142.1M127.5 271.1L203.5 237.5L279.5 163.7M127.5 154.8L203.5 229.0L279.5 151.2M127.5 140.8L203.5 194.5L279.5 253.3M127.5 122.4L203.5 270.1L279.5 205.0M127.5 156.6L203.5 162.4L279.5 192.1M127.5 193.0L203.5 236.3L279.5 202.3M127.5 107.7L203.5 167.7L279.5 249.7M127.5 133.3L203.5 206.4L279.5 137.1M127.5 126.0L203.5 156.2L279.5 169.3M127.5 174.0L203.5 254.2L279.5 238.4M127.5 144.6L203.5 186.1L279.5 195.2M127.5 237.9L203.5 213.7L279.5 178.4M127.5 149.1L203.5 233.8L279.5 142.3M127.5 252.4L203.5 187.2L279.5 153.9M127.5 206.9L203.5 219.9L279.5 211.5M127.5 225.5L203.5 237.4L279.5 200.9M127.5 130.3L203.5 219.3L279.5 171.7M127.5 136.6L203.5 239.0L279.5 142.0M127.5 188.3L203.5 219.5L279.5 194.9M127.5 127.7L203.5 213.2L279.5 200.6M127.5 160.3L203.5 180.3L279.5 158.3M127.5 247.5L203.5 215.0L279.5 175.7M127.5 180.0L203.5 238.9L279.5 127.4M127.5 236.6L203.5 189.7L279.5 162.3M127.5 160.6L203.5 224.7L279.5 142.1M127.5 152.4L203.5 245.9L279.5 240.9M127.5 194.9L203.5 254.3L279.5 222.8M127.5 139.8L203.5 160.9L279.5 228.1M127.5 132.9L203.5 215.8L279.5 203.1M127.5 201.4L203.5 165.2L279.5 168.4M127.5 146.6L203.5 246.4L279.5 191.1M127.5 167.7L203.5 249.3L279.5 162.6M127.5 175.5L203.5 162.2L279.5 205.7M127.5 115.0L203.5 221.0L279.5 144.3M127.5 193.4L203.5 218.8L279.5 149.4M127.5 178.6L203.5 220.0L279.5 235.2M127.5 166.3L203.5 248.3L279.5 215.5M127.5 146.4L203.5 182.3L279.5 202.1M127.5 140.7L203.5 254.7L279.5 151.2M127.5 203.3L203.5 189.8L279.5 152.8M127.5 123.8L203.5 249.9L279.5 112.8M127.5 110.7L203.5 136.4L279.5 229.2M127.5 105.6L203.5 191.0L279.5 175.4M127.5 157.7L203.5 179.8L279.5 184.6M127.5 184.8L203.5 271.8L279.5 192.6M127.5 208.6L203.5 201.6L279.5 188.5M127.5 152.5L203.5 234.4L279.5 246.7M127.5 166.3L203.5 242.8L279.5 173.1M127.5 165.7L203.5 241.8L279.5 197.3M127.5 189.5L203.5 187.9L279.5 222.5M127.5 257.0L203.5 210.7L279.5 129.0M127.5 175.4L203.5 229.7L279.5 205.6M127.5 170.5L203.5 233.4L279.5 175.8M127.5 178.7L203.5 234.8L279.5 205.7M127.5 223.2L203.5 231.2L279.5 231.7M127.5 174.7L203.5 222.0L279.5 198.8M127.5 169.4L203.5 252.6L279.5 172.7M127.5 210.9L203.5 244.2L279.5 215.3M127.5 144.0L203.5 290.4L279.5 165.2M127.5 164.5L203.5 213.5L279.5 117.4M127.5 158.4L203.5 195.3L279.5 137.7M127.5 151.0L203.5 229.6L279.5 194.1M127.5 173.6L203.5 171.9L279.5 208.5M127.5 166.2L203.5 239.1L279.5 148.1M127.5 147.1L203.5 211.0L279.5 226.5M127.5 140.6L203.5 178.5L279.5 215.7M127.5 136.8L203.5 204.7L279.5 115.5M127.5 170.7L203.5 240.0L279.5 168.7M127.5 140.3L203.5 201.4L279.5 164.0M127.5 129.7L203.5 226.1L279.5 192.2M127.5 222.3L203.5 179.6L279.5 70.1M127.5 180.0L203.5 189.6L279.5 57.9M127.5 163.7L203.5 219.8L279.5 187.2M127.5 162.6L203.5 196.5L279.5 148.9M127.5 111.2L203.5 161.8L279.5 190.9M127.5 128.4L203.5 179.1L279.5 163.1M127.5 168.3L203.5 186.8L279.5 127.9M127.5 167.3L203.5 218.3L279.5 129.8M127.5 221.8L203.5 232.4L279.5 188.9M127.5 204.2L203.5 238.2L279.5 164.5M127.5 123.8L203.5 182.0L279.5 67.2M127.5 235.5L203.5 249.6L279.5 141.7M127.5 144.0L203.5 199.8L279.5 122.7M127.5 192.2L203.5 165.6L279.5 156.9M127.5 175.3L203.5 267.5L279.5 183.9M127.5 166.5L203.5 201.3L279.5 214.1M127.5 109.9L203.5 246.5L279.5 210.6M127.5 152.1L203.5 216.2L279.5 231.6M127.5 147.2L203.5 196.5L279.5 214.1M127.5 132.8L203.5 246.3L279.5 207.7M127.5 256.1L203.5 258.0L279.5 150.8M127.5 108.6L203.5 225.9L279.5 231.7M127.5 233.0L203.5 205.4L279.5 163.3M127.5 192.4L203.5 225.5L279.5 241.0M127.5 141.9L203.5 245.2L279.5 75.6M127.5 214.0L203.5 191.8L279.5 198.7M127.5 235.9L203.5 251.1L279.5 174.1M127.5 128.3L203.5 262.2L279.5 109.7M127.5 174.9L203.5 208.4L279.5 187.0M127.5 134.7L203.5 149.7L279.5 176.1M127.5 147.4L203.5 229.4L279.5 174.3M127.5 169.6L203.5 214.9L279.5 157.7M127.5 113.1L203.5 247.6L279.5 196.4M127.5 172.3L203.5 233.1L279.5 109.7M127.5 103.9L203.5 251.4L279.5 134.1M127.5 199.2L203.5 203.5L279.5 174.3M127.5 203.6L203.5 235.5L279.5 130.9M127.5 190.3L203.5 239.4L279.5 184.1M127.5 154.3L203.5 184.7L279.5 197.1M127.5 209.3L203.5 262.7L279.5 184.2M127.5 190.8L203.5 184.8L279.5 161.2M127.5 120.1L203.5 218.2L279.5 228.2M127.5 155.6L203.5 243.8L279.5 191.0M127.5 128.1L203.5 212.7L279.5 162.0M127.5 150.3L203.5 221.4L279.5 214.8M127.5 185.6L203.5 202.3L279.5 167.0M127.5 193.3L203.5 219.3L279.5 215.0M127.5 155.4L203.5 157.4L279.5 172.4M127.5 158.6L203.5 181.1L279.5 183.4M127.5 182.7L203.5 179.2L279.5 166.7M127.5 184.3L203.5 253.8L279.5 203.9M127.5 119.6L203.5 223.7L279.5 241.9M127.5 131.1L203.5 177.2L279.5 261.1M127.5 152.0L203.5 194.1L279.5 30.7M127.5 174.8L203.5 210.7L279.5 226.8M127.5 178.2L203.5 214.3L279.5 208.6M127.5 103.8L203.5 181.1L279.5 232.8M127.5 185.7L203.5 278.1L279.5 125.4M127.5 95.2L203.5 241.6L279.5 152.3M127.5 188.3L203.5 259.7L279.5 146.9M127.5 223.5L203.5 178.0L279.5 217.0M127.5 103.4L203.5 259.6L279.5 140.3M127.5 165.2L203.5 220.6L279.5 205.5M127.5 117.4L203.5 172.2L279.5 131.4M127.5 148.1L203.5 221.7L279.5 184.8M127.5 170.7L203.5 202.7L279.5 253.0M127.5 133.9L203.5 210.0L279.5 185.6M127.5 172.9L203.5 191.3L279.5 209.4M127.5 148.3L203.5 147.7L279.5 84.0M127.5 166.5L203.5 252.0L279.5 223.3M127.5 235.2L203.5 212.7L279.5 191.8M127.5 149.4L203.5 163.3L279.5 191.4M127.5 183.1L203.5 142.6L279.5 208.7M127.5 166.7L203.5 218.4L279.5 205.4M127.5 149.0L203.5 170.9L279.5 184.6M127.5 220.7L203.5 191.4L279.5 168.5M127.5 145.4L203.5 192.5L279.5 196.2M127.5 144.3L203.5 260.5L279.5 191.4M127.5 106.4L203.5 267.8L279.5 182.9M127.5 137.5L203.5 206.6L279.5 212.5M127.5 151.1L203.5 215.1L279.5 190.6M127.5 188.2L203.5 214.2L279.5 181.7M127.5 161.8L203.5 252.1L279.5 141.5M127.5 220.5L203.5 169.1L279.5 155.6M127.5 149.4L203.5 217.1L279.5 163.1M127.5 169.4L203.5 132.7L279.5 146.1M127.5 176.5L203.5 218.8L279.5 207.4M127.5 160.5L203.5 199.8L279.5 137.5M127.5 148.2L203.5 188.8L279.5 195.0M127.5 153.7L203.5 222.7L279.5 188.1M127.5 211.2L203.5 245.8L279.5 196.3M127.5 123.7L203.5 230.4L279.5 156.9M127.5 160.2L203.5 210.0L279.5 203.5M127.5 151.7L203.5 228.1L279.5 160.1M127.5 161.2L203.5 153.3L279.5 194.6M127.5 201.1L203.5 228.7L279.5 199.4M127.5 153.8L203.5 188.1L279.5 168.0M127.5 178.1L203.5 187.0L279.5 210.3M127.5 197.4L203.5 204.9L279.5 136.1M127.5 157.8L203.5 247.8L279.5 206.2M127.5 140.1L203.5 195.5L279.5 199.0M127.5 144.2L203.5 183.1L279.5 136.2M127.5 155.9L203.5 205.2L279.5 229.7M127.5 187.5L203.5 209.5L279.5 148.4M127.5 175.4L203.5 286.0L279.5 182.0M127.5 167.4L203.5 248.4L279.5 181.1M127.5 221.7L203.5 216.7L279.5 177.0M127.5 138.7L203.5 204.7L279.5 212.6M127.5 158.8L203.5 188.6L279.5 118.7M127.5 215.5L203.5 220.8L279.5 163.3M127.5 119.4L203.5 205.1L279.5 158.8M127.5 107.2L203.5 246.1L279.5 152.5M127.5 216.1L203.5 192.1L279.5 146.2M127.5 169.2L203.5 189.4L279.5 172.7M127.5 196.9L203.5 214.1L279.5 213.7M127.5 139.9L203.5 182.4L279.5 224.3M127.5 219.6L203.5 220.6L279.5 226.6M127.5 147.7L203.5 227.3L279.5 199.1M127.5 150.7L203.5 220.4L279.5 145.6M127.5 130.4L203.5 153.0L279.5 225.1M127.5 241.5L203.5 266.7L279.5 196.1M127.5 194.1L203.5 204.4L279.5 162.0M127.5 170.6L203.5 222.4L279.5 196.0M127.5 134.7L203.5 206.9L279.5 193.7M127.5 159.0L203.5 261.7L279.5 218.4M127.5 140.6L203.5 189.0L279.5 179.8M127.5 148.8L203.5 191.2L279.5 203.7M127.5 199.6L203.5 219.2L279.5 207.3M127.5 166.9L203.5 225.0L279.5 198.4M127.5 178.7L203.5 208.1L279.5 172.0M127.5 175.2L203.5 182.6L279.5 148.0M127.5 200.6L203.5 263.3L279.5 221.3M127.5 140.4L203.5 169.7L279.5 167.2M127.5 153.1L203.5 220.7L279.5 219.8M127.5 242.2L203.5 185.8L279.5 242.9M127.5 141.0L203.5 238.6L279.5 206.6M127.5 185.9L203.5 153.6L279.5 184.6M127.5 224.5L203.5 201.9L279.5 188.0M127.5 127.8L203.5 158.8L279.5 172.0M127.5 163.1L203.5 230.6L279.5 247.7M127.5 151.8L203.5 231.6L279.5 131.3M127.5 168.0L203.5 176.9L279.5 154.0M127.5 163.9L203.5 188.8L279.5 160.3M127.5 238.3L203.5 199.2L279.5 234.7M127.5 140.6L203.5 173.6L279.5 168.6M127.5 193.3L203.5 196.7L279.5 201.4M127.5 161.7L203.5 220.4L279.5 200.8M127.5 165.9L203.5 274.7L279.5 185.6M127.5 203.1L203.5 288.5L279.5 234.5M127.5 215.1L203.5 190.3L279.5 143.3M127.5 168.8L203.5 192.5L279.5 145.7M127.5 126.1L203.5 240.0L279.5 154.4M127.5 190.0L203.5 193.2L279.5 130.3M127.5 187.7L203.5 215.6L279.5 237.1M127.5 159.2L203.5 207.5L279.5 194.7M127.5 186.7L203.5 180.9L279.5 195.9M127.5 124.9L203.5 263.4L279.5 223.2M127.5 148.8L203.5 198.4L279.5 153.5M127.5 91.3L203.5 193.6L279.5 84.1M127.5 155.5L203.5 214.8L279.5 217.2M127.5 99.2L203.5 203.8L279.5 162.7M127.5 186.8L203.5 248.0L279.5 182.5M127.5 155.1L203.5 204.1L279.5 179.4M127.5 206.5L203.5 190.4L279.5 181.3M127.5 178.0L203.5 186.2L279.5 158.0M127.5 174.8L203.5 232.4L279.5 203.9M127.5 144.0L203.5 185.4L279.5 197.1M127.5 122.9L203.5 199.7L279.5 119.4M127.5 172.3L203.5 189.4L279.5 184.5M127.5 222.2L203.5 209.6L279.5 185.1M127.5 161.2L203.5 190.4L279.5 237.8M127.5 168.3L203.5 202.8L279.5 166.5M127.5 181.6L203.5 139.0L279.5 160.8M127.5 136.7L203.5 218.8L279.5 174.4M127.5 128.9L203.5 176.1L279.5 122.9M127.5 190.0L203.5 209.2L279.5 244.8M127.5 190.4L203.5 260.5L279.5 150.1M127.5 269.9L203.5 195.1L279.5 234.3M127.5 186.9L203.5 173.7L279.5 217.0M127.5 136.9L203.5 187.1L279.5 245.4M127.5 199.0L203.5 186.3L279.5 153.5M127.5 134.8L203.5 236.8L279.5 189.6M127.5 141.3L203.5 200.0L279.5 199.2M127.5 142.8L203.5 256.7L279.5 185.0M127.5 142.2L203.5 157.9L279.5 249.5M127.5 163.0L203.5 164.4L279.5 204.9M127.5 131.1L203.5 244.7L279.5 179.4M127.5 130.0L203.5 222.1L279.5 204.6M127.5 149.9L203.5 251.5L279.5 188.7M127.5 160.8L203.5 234.6L279.5 234.4M127.5 123.0L203.5 224.0L279.5 181.1M127.5 117.4L203.5 249.5L279.5 196.1M127.5 185.8L203.5 224.7L279.5 179.4M127.5 136.0L203.5 190.5L279.5 126.2M127.5 157.9L203.5 218.5L279.5 184.9M127.5 93.5L203.5 188.2L279.5 205.4M127.5 172.5L203.5 214.5L279.5 173.0M127.5 185.1L203.5 206.0L279.5 220.9M127.5 197.5L203.5 252.9L279.5 123.6M127.5 133.6L203.5 182.3L279.5 187.4M127.5 203.3L203.5 248.4L279.5 187.2M127.5 141.2L203.5 221.3L279.5 169.2M127.5 180.4L203.5 253.7L279.5 225.6M127.5 121.5L203.5 194.5L279.5 188.4M127.5 115.0L203.5 245.4L279.5 194.8M127.5 127.1L203.5 192.6L279.5 104.3M127.5 241.1L203.5 153.6L279.5 132.3M127.5 220.3L203.5 199.1L279.5 117.0M127.5 272.8L203.5 287.4L279.5 186.8M127.5 85.0L203.5 180.5L279.5 183.5M127.5 183.8L203.5 203.8L279.5 147.7M127.5 176.1L203.5 191.2L279.5 208.8M127.5 158.1L203.5 196.9L279.5 216.0M127.5 142.3L203.5 175.4L279.5 127.8M127.5 172.8L203.5 179.5L279.5 170.7M127.5 157.5L203.5 210.3L279.5 170.9M127.5 159.6L203.5 251.8L279.5 239.8M127.5 213.9L203.5 211.2L279.5 201.3M127.5 108.2L203.5 186.5L279.5 202.5M127.5 110.4L203.5 273.5L279.5 209.7M127.5 158.5L203.5 204.1L279.5 176.9M127.5 164.2L203.5 271.3L279.5 216.2M127.5 106.2L203.5 176.3L279.5 223.9M127.5 90.2L203.5 155.2L279.5 112.5M127.5 157.7L203.5 183.2L279.5 170.7M127.5 142.1L203.5 222.7L279.5 219.2M127.5 175.8L203.5 185.6L279.5 105.3M127.5 149.7L203.5 169.9L279.5 166.9M127.5 266.6L203.5 160.1L279.5 174.9M127.5 253.5L203.5 167.4L279.5 268.9M127.5 146.3L203.5 176.8L279.5 129.3M127.5 166.2L203.5 242.2L279.5 181.2M127.5 147.7L203.5 211.2L279.5 138.8M127.5 156.7L203.5 194.5L279.5 119.3M127.5 141.8L203.5 206.7L279.5 225.0M127.5 151.6L203.5 276.2L279.5 112.9M127.5 165.2L203.5 213.7L279.5 153.4M127.5 146.9L203.5 232.6L279.5 181.7M127.5 185.9L203.5 202.2L279.5 254.5M127.5 118.7L203.5 198.3L279.5 108.0M127.5 198.9L203.5 258.2L279.5 172.8M127.5 174.5L203.5 234.4L279.5 161.0M127.5 133.0L203.5 203.7L279.5 220.8M127.5 173.0L203.5 244.6L279.5 161.2M127.5 131.3L203.5 209.3L279.5 162.6M127.5 117.1L203.5 237.5L279.5 126.0M127.5 136.1L203.5 232.9L279.5 212.8M127.5 175.8L203.5 183.3L279.5 250.4M127.5 104.3L203.5 212.8L279.5 203.6M127.5 145.2L203.5 227.6L279.5 215.1M127.5 197.9L203.5 164.6L279.5 174.9M127.5 101.1L203.5 219.4L279.5 190.1M127.5 152.9L203.5 209.5L279.5 177.4M127.5 140.5L203.5 208.1L279.5 135.2M127.5 132.5L203.5 121.8L279.5 118.8M127.5 178.5L203.5 190.5L279.5 183.4M127.5 132.5L203.5 183.9L279.5 233.0M127.5 209.4L203.5 221.3L279.5 185.8M127.5 198.3L203.5 184.4L279.5 191.8M127.5 173.2L203.5 176.3L279.5 188.2M127.5 96.1L203.5 249.3L279.5 190.4M127.5 140.8L203.5 196.1L279.5 186.9M127.5 124.8L203.5 161.3L279.5 252.1M127.5 174.8L203.5 156.3L279.5 165.4M127.5 142.6L203.5 201.4L279.5 167.3M127.5 246.0L203.5 142.3L279.5 174.1M127.5 167.0L203.5 231.9L279.5 190.3M127.5 145.3L203.5 178.2L279.5 152.4M127.5 180.2L203.5 192.8L279.5 237.7M127.5 240.3L203.5 244.6L279.5 190.4M127.5 225.7L203.5 179.2L279.5 165.4M127.5 139.6L203.5 252.4L279.5 201.0M127.5 119.5L203.5 230.6L279.5 189.7M127.5 172.1L203.5 210.9L279.5 149.0M127.5 112.4L203.5 249.8L279.5 192.8M127.5 211.6L203.5 174.4L279.5 214.1M127.5 140.2L203.5 223.4L279.5 202.1M127.5 149.3L203.5 251.1L279.5 174.6M127.5 128.0L203.5 200.6L279.5 219.0M127.5 220.5L203.5 208.3L279.5 187.5M127.5 129.6L203.5 245.7L279.5 199.9M127.5 154.8L203.5 226.7L279.5 186.2M127.5 193.5L203.5 182.3L279.5 159.5M127.5 176.3L203.5 184.3L279.5 160.3M127.5 166.3L203.5 262.9L279.5 185.8M127.5 150.3L203.5 180.0L279.5 180.2M127.5 193.5L203.5 179.8L279.5 158.3M127.5 194.1L203.5 174.8L279.5 210.9M127.5 156.1L203.5 224.0L279.5 182.7M127.5 159.7L203.5 234.2L279.5 221.8M127.5 144.5L203.5 210.5L279.5 140.3M127.5 133.1L203.5 230.0L279.5 184.6M127.5 237.1L203.5 216.0L279.5 225.6M127.5 162.1L203.5 228.2L279.5 201.7M127.5 152.5L203.5 217.1L279.5 159.2M127.5 157.9L203.5 224.4L279.5 177.4M127.5 204.4L203.5 206.6L279.5 236.4M127.5 139.2L203.5 202.9L279.5 119.9M127.5 110.8L203.5 216.1L279.5 179.3M127.5 166.4L203.5 226.2L279.5 173.3M127.5 192.9L203.5 161.7L279.5 196.1M127.5 137.7L203.5 180.9L279.5 211.0M127.5 159.2L203.5 193.6L279.5 231.5M127.5 156.5L203.5 237.9L279.5 181.7M127.5 153.5L203.5 189.6L279.5 187.4M127.5 179.0L203.5 212.7L279.5 194.4M127.5 160.4L203.5 190.6L279.5 158.1M127.5 190.5L203.5 201.0L279.5 175.0M127.5 243.6L203.5 135.4L279.5 217.0M127.5 130.5L203.5 207.2L279.5 198.8M127.5 151.9L203.5 242.6L279.5 143.7M127.5 162.9L203.5 176.7L279.5 227.4M127.5 121.8L203.5 174.8L279.5 104.2M127.5 166.5L203.5 169.4L279.5 202.7M127.5 128.2L203.5 298.9L279.5 86.9M127.5 136.7L203.5 240.3L279.5 169.6M127.5 172.4L203.5 236.2L279.5 233.5M127.5 213.6L203.5 265.2L279.5 169.1M127.5 146.7L203.5 204.6L279.5 183.2M127.5 153.8L203.5 189.5L279.5 198.6M127.5 131.4L203.5 177.5L279.5 184.3M127.5 226.2L203.5 182.3L279.5 184.2M127.5 165.4L203.5 207.9L279.5 282.2M127.5 153.6L203.5 164.1L279.5 157.7M127.5 150.5L203.5 201.5L279.5 194.4M127.5 156.9L203.5 307.1L279.5 185.2M127.5 151.5L203.5 220.0L279.5 158.6M127.5 259.5L203.5 235.4L279.5 186.0M127.5 173.5L203.5 199.5L279.5 222.1M127.5 188.8L203.5 224.1L279.5 154.4M127.5 226.3L203.5 220.8L279.5 195.2M127.5 157.1L203.5 170.1L279.5 177.0M127.5 177.0L203.5 236.3L279.5 206.9M127.5 209.8L203.5 258.0L279.5 190.3M127.5 220.0L203.5 202.9L279.5 215.0M127.5 151.2L203.5 191.5L279.5 124.7M127.5 268.9L203.5 214.2L279.5 216.9M127.5 164.3L203.5 210.5L279.5 148.4M127.5 208.3L203.5 231.1L279.5 241.1M127.5 156.6L203.5 256.9L279.5 176.1M127.5 105.7L203.5 237.2L279.5 193.9M127.5 131.3L203.5 248.1L279.5 147.5M127.5 162.8L203.5 175.2L279.5 176.8M127.5 117.4L203.5 219.7L279.5 97.1M127.5 106.6L203.5 170.1L279.5 71.3M127.5 132.0L203.5 215.6L279.5 201.5M127.5 107.4L203.5 243.0L279.5 158.6M127.5 154.0L203.5 205.3L279.5 213.3M127.5 142.0L203.5 204.9L279.5 213.9M127.5 163.4L203.5 172.5L279.5 186.9M127.5 176.1L203.5 282.3L279.5 150.7M127.5 159.4L203.5 225.9L279.5 159.8M127.5 193.1L203.5 199.1L279.5 190.4M127.5 163.9L203.5 237.5L279.5 141.4M127.5 96.9L203.5 207.4L279.5 219.8M127.5 139.6L203.5 221.2L279.5 211.7M127.5 167.9L203.5 169.6L279.5 187.0M127.5 110.7L203.5 174.5L279.5 238.8M127.5 118.6L203.5 283.4L279.5 132.3M127.5 205.4L203.5 265.2L279.5 188.6M127.5 189.5L203.5 238.9L279.5 194.5M127.5 110.4L203.5 213.3L279.5 167.5M127.5 157.2L203.5 216.4L279.5 224.4M127.5 154.7L203.5 228.9L279.5 187.8M127.5 182.2L203.5 193.2L279.5 234.9M127.5 207.0L203.5 185.5L279.5 189.2M127.5 127.0L203.5 207.7L279.5 179.5M127.5 194.3L203.5 221.1L279.5 121.8M127.5 144.4L203.5 209.4L279.5 183.8M127.5 106.7L203.5 239.8L279.5 131.2M127.5 144.5L203.5 186.8L279.5 184.4M127.5 168.6L203.5 186.5L279.5 232.2M127.5 141.8L203.5 243.2L279.5 154.5M127.5 143.9L203.5 168.5L279.5 181.2M127.5 179.1L203.5 212.2L279.5 201.3M127.5 152.3L203.5 186.7L279.5 147.7M127.5 211.6L203.5 210.6L279.5 215.5M127.5 234.9L203.5 216.8L279.5 195.6M127.5 183.3L203.5 189.9L279.5 156.5M127.5 235.2L203.5 244.8L279.5 151.0M127.5 186.9L203.5 219.1L279.5 203.7M127.5 165.1L203.5 252.3L279.5 172.4M127.5 154.9L203.5 196.1L279.5 181.1M127.5 106.8L203.5 218.5L279.5 159.9M127.5 199.8L203.5 221.7L279.5 191.1M127.5 179.8L203.5 229.0L279.5 247.3M127.5 180.1L203.5 191.8L279.5 195.3M127.5 203.7L203.5 202.6L279.5 125.0M127.5 102.3L203.5 218.1L279.5 209.3M127.5 193.9L203.5 226.7L279.5 190.3M127.5 170.7L203.5 158.9L279.5 151.9M127.5 168.1L203.5 167.1L279.5 191.1M127.5 90.6L203.5 249.7L279.5 216.5M127.5 173.9L203.5 175.5L279.5 185.1M127.5 193.7L203.5 195.0L279.5 190.1M127.5 125.1L203.5 201.3L279.5 210.2M127.5 189.2L203.5 197.9L279.5 189.0M127.5 251.7L203.5 258.1L279.5 225.6M127.5 128.2L203.5 139.2L279.5 230.9M127.5 133.9L203.5 151.1L279.5 217.9M127.5 222.6L203.5 208.8L279.5 189.8M127.5 214.5L203.5 209.7L279.5 184.2M127.5 162.6L203.5 205.6L279.5 202.2M127.5 203.0L203.5 233.5L279.5 141.6M127.5 227.0L203.5 194.5L279.5 160.8M127.5 213.2L203.5 211.4L279.5 182.2M127.5 109.7L203.5 248.0L279.5 139.6M127.5 130.2L203.5 227.6L279.5 125.7M127.5 207.9L203.5 233.2L279.5 156.2" fill="none" stroke="#dadada" stroke-width="0.22"/></g>
<g clip-path="url(#g1)"><path d="M496.5 198.1L572.5 171.1L648.5 88.8M496.5 204.7L572.5 193.5L648.5 93.6M496.5 91.8L572.5 127.2L648.5 37.8M496.5 159.5L572.5 151.3L648.5 47.0M496.5 208.4L572.5 133.0L648.5 117.1M496.5 202.1L572.5 109.6L648.5 138.2M496.5 175.2L572.5 147.9L648.5 129.6M496.5 145.6L572.5 183.5L648.5 -50.0M496.5 190.6L572.5 200.1L648.5 135.9M496.5 168.2L572.5 142.4L648.5 162.8M496.5 180.5L572.5 170.0L648.5 194.3M496.5 154.5L572.5 153.1L648.5 96.0M496.5 198.7L572.5 134.8L648.5 96.9M496.5 203.2L572.5 180.6L648.5 130.9M496.5 178.8L572.5 194.8L648.5 50.1M496.5 178.8L572.5 166.3L648.5 205.7M496.5 183.7L572.5 186.2L648.5 181.7M496.5 152.7L572.5 193.4L648.5 204.8M496.5 168.5L572.5 167.0L648.5 151.7M496.5 182.2L572.5 182.4L648.5 108.4M496.5 209.5L572.5 163.4L648.5 128.8M496.5 168.5L572.5 197.3L648.5 153.4M496.5 163.7L572.5 179.5L648.5 108.3M496.5 200.5L572.5 182.5L648.5 13.9M496.5 187.1L572.5 177.4L648.5 93.6M496.5 208.5L572.5 189.3L648.5 141.4M496.5 181.8L572.5 159.0L648.5 122.2M496.5 190.7L572.5 202.2L648.5 99.7M496.5 216.6L572.5 165.4L648.5 83.5M496.5 184.4L572.5 144.2L648.5 126.1M496.5 193.4L572.5 177.2L648.5 128.0M496.5 193.6L572.5 175.0L648.5 135.0M496.5 158.2L572.5 192.2L648.5 90.4M496.5 173.5L572.5 170.5L648.5 45.0M496.5 163.0L572.5 165.6L648.5 90.3M496.5 193.1L572.5 172.6L648.5 85.2M496.5 147.7L572.5 167.4L648.5 96.2M496.5 202.6L572.5 162.5L648.5 173.3M496.5 166.7L572.5 171.3L648.5 102.2M496.5 213.4L572.5 206.6L648.5 193.0M496.5 179.4L572.5 197.8L648.5 146.2M496.5 206.9L572.5 179.3L648.5 146.7M496.5 212.9L572.5 95.1L648.5 88.3M496.5 168.5L572.5 145.1L648.5 1.3M496.5 180.0L572.5 177.3L648.5 125.3M496.5 172.8L572.5 181.2L648.5 23.3M496.5 183.2L572.5 186.1L648.5 93.9M496.5 178.3L572.5 161.3L648.5 40.3M496.5 185.1L572.5 183.5L648.5 93.7M496.5 188.6L572.5 175.5L648.5 96.7M496.5 181.5L572.5 194.0L648.5 86.0M496.5 106.0L572.5 186.0L648.5 106.5M496.5 206.6L572.5 195.7L648.5 134.3M496.5 213.4L572.5 192.4L648.5 165.1M496.5 205.0L572.5 184.4L648.5 222.4M496.5 200.3L572.5 141.4L648.5 125.7M496.5 171.4L572.5 168.0L648.5 171.2M496.5 155.1L572.5 146.2L648.5 60.6M496.5 153.6L572.5 186.7L648.5 144.9M496.5 189.4L572.5 170.1L648.5 108.9M496.5 166.1L572.5 189.2L648.5 110.0M496.5 125.8L572.5 181.1L648.5 158.4M496.5 168.0L572.5 180.4L648.5 93.8M496.5 147.2L572.5 204.2L648.5 153.8M496.5 205.0L572.5 175.8L648.5 104.1M496.5 160.6L572.5 198.7L648.5 89.8M496.5 163.0L572.5 164.4L648.5 143.6M496.5 209.0L572.5 189.9L648.5 139.2M496.5 181.9L572.5 203.5L648.5 164.3M496.5 168.0L572.5 198.6L648.5 97.0M496.5 203.6L572.5 194.2L648.5 81.1M496.5 160.0L572.5 131.9L648.5 -789.6M496.5 157.9L572.5 199.7L648.5 130.8M496.5 176.1L572.5 185.3L648.5 107.0M496.5 185.5L572.5 173.2L648.5 143.0M496.5 188.0L572.5 181.2L648.5 96.5M496.5 174.4L572.5 178.7L648.5 78.0M496.5 153.2L572.5 158.9L648.5 127.2M496.5 211.0L572.5 191.3L648.5 159.4M496.5 178.8L572.5 119.0L648.5 101.0M496.5 177.5L572.5 135.3L648.5 175.4M496.5 203.5L572.5 172.4L648.5 100.5M496.5 210.2L572.5 135.4L648.5 42.7M496.5 189.2L572.5 174.4L648.5 154.7M496.5 215.1L572.5 186.1L648.5 21.3M496.5 178.5L572.5 198.8L648.5 -54.0M496.5 191.1L572.5 190.6L648.5 120.5M496.5 207.7L572.5 162.4L648.5 75.1M496.5 183.2L572.5 169.1L648.5 193.3M496.5 203.6L572.5 125.4L648.5 186.4M496.5 201.3L572.5 127.0L648.5 144.0M496.5 152.7L572.5 152.5L648.5 100.7M496.5 202.3L572.5 174.2L648.5 116.9M496.5 222.6L572.5 116.9L648.5 162.6M496.5 177.2L572.5 178.1L648.5 118.4M496.5 207.1L572.5 212.0L648.5 149.3M496.5 204.7L572.5 183.0L648.5 67.9M496.5 140.0L572.5 165.6L648.5 66.2M496.5 186.1L572.5 162.5L648.5 192.2M496.5 164.2L572.5 162.3L648.5 140.1M496.5 212.1L572.5 156.1L648.5 -67.3M496.5 207.3L572.5 213.5L648.5 85.5M496.5 203.9L572.5 89.5L648.5 47.4M496.5 167.1L572.5 162.8L648.5 220.1M496.5 200.9L572.5 175.3L648.5 103.9M496.5 218.1L572.5 207.7L648.5 188.1M496.5 166.5L572.5 154.7L648.5 164.1M496.5 198.0L572.5 196.5L648.5 139.4M496.5 182.5L572.5 208.4L648.5 122.5M496.5 166.4L572.5 162.2L648.5 119.5M496.5 113.6L572.5 163.6L648.5 146.9M496.5 185.7L572.5 180.5L648.5 135.6M496.5 139.3L572.5 194.9L648.5 127.5M496.5 212.2L572.5 167.1L648.5 48.9M496.5 180.9L572.5 176.3L648.5 -26.2M496.5 177.9L572.5 169.4L648.5 115.7M496.5 220.5L572.5 167.5L648.5 90.6M496.5 206.7L572.5 203.3L648.5 122.7M496.5 202.1L572.5 166.9L648.5 119.0M496.5 173.3L572.5 200.3L648.5 102.4M496.5 197.3L572.5 166.5L648.5 46.5M496.5 195.7L572.5 186.1L648.5 109.9M496.5 201.2L572.5 188.6L648.5 26.8M496.5 174.2L572.5 125.5L648.5 36.7M496.5 186.4L572.5 173.2L648.5 68.9M496.5 186.9L572.5 173.7L648.5 136.0M496.5 191.1L572.5 157.5L648.5 168.7M496.5 168.3L572.5 97.7L648.5 149.3M496.5 201.6L572.5 216.0L648.5 118.0M496.5 185.0L572.5 165.0L648.5 128.1M496.5 183.7L572.5 176.7L648.5 165.5M496.5 175.6L572.5 144.6L648.5 89.3M496.5 158.5L572.5 177.1L648.5 -758.9M496.5 176.3L572.5 178.9L648.5 74.5M496.5 211.2L572.5 162.1L648.5 74.9M496.5 158.3L572.5 178.3L648.5 -19.1M496.5 151.1L572.5 194.4L648.5 37.9M496.5 149.0L572.5 176.8L648.5 92.4M496.5 161.7L572.5 111.9L648.5 127.5M496.5 213.6L572.5 161.6L648.5 212.6M496.5 186.2L572.5 211.5L648.5 153.4M496.5 163.3L572.5 180.3L648.5 -6.8M496.5 162.6L572.5 195.8L648.5 119.2M496.5 184.9L572.5 150.6L648.5 116.6M496.5 179.8L572.5 198.3L648.5 134.4M496.5 206.8L572.5 179.3L648.5 139.9M496.5 173.4L572.5 164.2L648.5 53.0M496.5 218.5L572.5 154.1L648.5 118.9M496.5 188.1L572.5 189.9L648.5 138.8M496.5 157.7L572.5 170.5L648.5 125.1M496.5 208.3L572.5 88.9L648.5 165.3M496.5 147.3L572.5 190.8L648.5 168.1M496.5 118.9L572.5 176.2L648.5 112.0M496.5 169.9L572.5 194.1L648.5 75.7M496.5 195.4L572.5 181.3L648.5 154.9M496.5 194.5L572.5 164.1L648.5 122.4M496.5 208.3L572.5 175.7L648.5 121.0M496.5 164.1L572.5 158.9L648.5 191.1M496.5 206.7L572.5 200.2L648.5 128.7M496.5 177.9L572.5 173.3L648.5 -61.9M496.5 206.4L572.5 183.8L648.5 160.9M496.5 169.3L572.5 216.0L648.5 135.6M496.5 210.6L572.5 143.6L648.5 -166.4M496.5 184.7L572.5 174.0L648.5 72.3M496.5 199.6L572.5 189.2L648.5 147.6M496.5 155.4L572.5 144.7L648.5 54.8M496.5 192.4L572.5 162.4L648.5 175.1M496.5 186.0L572.5 212.0L648.5 117.4M496.5 151.8L572.5 164.4L648.5 130.3M496.5 206.8L572.5 76.0L648.5 119.4M496.5 208.8L572.5 168.7L648.5 108.7M496.5 183.5L572.5 152.4L648.5 110.5M496.5 205.5L572.5 205.2L648.5 54.6M496.5 131.9L572.5 203.7L648.5 103.1M496.5 179.4L572.5 202.2L648.5 102.9M496.5 176.8L572.5 143.8L648.5 111.1M496.5 191.2L572.5 149.2L648.5 106.0M496.5 225.3L572.5 213.4L648.5 126.1M496.5 147.8L572.5 150.4L648.5 34.5M496.5 185.6L572.5 209.7L648.5 125.9M496.5 218.2L572.5 202.0L648.5 130.5M496.5 206.8L572.5 179.1L648.5 92.0M496.5 183.2L572.5 191.2L648.5 158.0M496.5 149.4L572.5 178.1L648.5 144.2M496.5 175.2L572.5 171.6L648.5 87.3M496.5 174.6L572.5 140.4L648.5 132.2M496.5 175.5L572.5 187.4L648.5 94.1M496.5 203.8L572.5 190.8L648.5 140.3M496.5 199.3L572.5 191.6L648.5 72.4M496.5 182.5L572.5 74.2L648.5 153.9M496.5 210.7L572.5 139.8L648.5 219.7M496.5 182.1L572.5 138.3L648.5 121.5M496.5 167.0L572.5 160.7L648.5 112.0M496.5 221.0L572.5 169.8L648.5 24.2M496.5 189.0L572.5 127.8L648.5 113.6M496.5 190.3L572.5 177.8L648.5 121.5M496.5 180.9L572.5 203.3L648.5 137.2M496.5 129.9L572.5 204.3L648.5 87.4M496.5 211.4L572.5 64.6L648.5 119.8M496.5 121.7L572.5 196.7L648.5 86.3M496.5 166.8L572.5 190.6L648.5 129.1M496.5 93.7L572.5 180.1L648.5 179.5M496.5 192.9L572.5 143.5L648.5 92.9M496.5 174.9L572.5 198.0L648.5 174.0M496.5 186.2L572.5 181.5L648.5 111.1M496.5 171.4L572.5 166.4L648.5 106.2M496.5 203.9L572.5 200.5L648.5 121.7M496.5 201.9L572.5 174.8L648.5 107.0M496.5 187.7L572.5 142.3L648.5 160.1M496.5 167.9L572.5 170.3L648.5 -39.5M496.5 210.4L572.5 174.2L648.5 88.3M496.5 192.1L572.5 163.1L648.5 108.1M496.5 198.9L572.5 178.2L648.5 163.7M496.5 176.8L572.5 186.5L648.5 27.1M496.5 162.9L572.5 188.3L648.5 138.3M496.5 212.9L572.5 152.3L648.5 93.6M496.5 206.1L572.5 205.3L648.5 153.9M496.5 192.7L572.5 199.6L648.5 102.0M496.5 206.2L572.5 154.0L648.5 149.0M496.5 143.8L572.5 139.0L648.5 52.7M496.5 133.2L572.5 174.5L648.5 89.6M496.5 165.3L572.5 194.3L648.5 25.9M496.5 171.7L572.5 205.2L648.5 79.7M496.5 207.8L572.5 160.9L648.5 110.5M496.5 205.5L572.5 172.9L648.5 99.8M496.5 174.1L572.5 168.7L648.5 130.5M496.5 141.6L572.5 166.7L648.5 202.9M496.5 193.1L572.5 197.8L648.5 101.2M496.5 177.4L572.5 193.4L648.5 83.6M496.5 136.9L572.5 180.6L648.5 -68.3M496.5 131.8L572.5 182.5L648.5 -3.9M496.5 206.3L572.5 205.8L648.5 122.4M496.5 177.7L572.5 201.1L648.5 174.4M496.5 165.8L572.5 183.1L648.5 121.8M496.5 215.0L572.5 133.6L648.5 115.4M496.5 196.3L572.5 79.6L648.5 105.4M496.5 179.8L572.5 172.5L648.5 18.9M496.5 197.5L572.5 185.9L648.5 124.2M496.5 172.0L572.5 171.3L648.5 36.9M496.5 194.4L572.5 177.1L648.5 90.4M496.5 215.9L572.5 195.6L648.5 119.0M496.5 210.4L572.5 219.5L648.5 136.9M496.5 219.8L572.5 174.5L648.5 -15.1M496.5 211.6L572.5 191.6L648.5 104.9M496.5 171.3L572.5 180.2L648.5 135.1M496.5 178.5L572.5 197.6L648.5 156.9M496.5 173.4L572.5 186.1L648.5 95.4M496.5 150.3L572.5 175.0L648.5 132.6M496.5 209.3L572.5 202.6L648.5 170.8M496.5 197.7L572.5 193.0L648.5 3.7M496.5 182.1L572.5 161.6L648.5 115.6M496.5 136.5L572.5 156.3L648.5 207.4M496.5 178.7L572.5 207.6L648.5 103.1M496.5 188.9L572.5 155.2L648.5 105.9M496.5 178.3L572.5 135.9L648.5 -11.7M496.5 205.6L572.5 166.6L648.5 129.1M496.5 218.6L572.5 165.4L648.5 77.9M496.5 174.3L572.5 174.1L648.5 58.4M496.5 196.3L572.5 167.1L648.5 190.1M496.5 175.0L572.5 187.7L648.5 137.8M496.5 210.0L572.5 135.6L648.5 159.2M496.5 205.6L572.5 177.9L648.5 102.5M496.5 167.1L572.5 203.2L648.5 114.6M496.5 180.6L572.5 162.9L648.5 79.8M496.5 161.8L572.5 150.9L648.5 19.9M496.5 201.5L572.5 166.7L648.5 95.2M496.5 183.4L572.5 196.8L648.5 61.1M496.5 168.9L572.5 160.3L648.5 -67.0M496.5 163.1L572.5 216.9L648.5 76.5M496.5 186.6L572.5 117.1L648.5 128.8M496.5 178.7L572.5 162.4L648.5 93.6M496.5 187.8L572.5 207.5L648.5 117.5M496.5 189.4L572.5 210.3L648.5 85.5M496.5 187.0L572.5 77.2L648.5 188.7M496.5 174.9L572.5 171.8L648.5 112.4M496.5 212.0L572.5 192.6L648.5 18.0M496.5 186.7L572.5 169.1L648.5 141.6M496.5 207.7L572.5 182.8L648.5 115.9M496.5 185.4L572.5 182.3L648.5 200.5M496.5 192.8L572.5 169.9L648.5 113.1M496.5 181.8L572.5 170.4L648.5 137.0M496.5 193.1L572.5 198.1L648.5 99.3M496.5 190.6L572.5 170.1L648.5 -73.4M496.5 213.2L572.5 172.5L648.5 126.2M496.5 149.2L572.5 196.9L648.5 50.5M496.5 213.0L572.5 149.3L648.5 164.3M496.5 218.5L572.5 163.3L648.5 118.0M496.5 178.8L572.5 197.4L648.5 152.8M496.5 173.3L572.5 112.1L648.5 141.5M496.5 189.7L572.5 162.5L648.5 106.6M496.5 195.7L572.5 131.8L648.5 60.2M496.5 210.3L572.5 192.7L648.5 -2.2M496.5 132.5L572.5 187.7L648.5 156.5M496.5 216.9L572.5 174.0L648.5 117.1M496.5 110.7L572.5 189.3L648.5 107.6M496.5 215.7L572.5 182.1L648.5 196.2M496.5 208.7L572.5 203.0L648.5 84.5M496.5 193.9L572.5 97.1L648.5 119.2M496.5 198.4L572.5 163.0L648.5 129.5M496.5 175.9L572.5 134.3L648.5 126.7M496.5 206.1L572.5 114.1L648.5 70.8M496.5 196.3L572.5 178.4L648.5 157.3M496.5 215.7L572.5 100.0L648.5 109.3M496.5 156.8L572.5 212.6L648.5 52.0M496.5 195.1L572.5 185.8L648.5 175.5M496.5 204.3L572.5 189.2L648.5 148.6M496.5 186.6L572.5 178.6L648.5 161.5M496.5 164.7L572.5 199.3L648.5 154.6M496.5 178.3L572.5 152.0L648.5 139.3M496.5 203.2L572.5 102.2L648.5 79.9M496.5 182.6L572.5 171.8L648.5 65.8M496.5 178.5L572.5 161.2L648.5 194.6M496.5 176.5L572.5 211.3L648.5 95.7M496.5 194.2L572.5 193.0L648.5 125.4M496.5 169.9L572.5 167.3L648.5 -44.4M496.5 209.1L572.5 191.8L648.5 80.4M496.5 182.6L572.5 169.9L648.5 147.9M496.5 204.3L572.5 186.5L648.5 54.2M496.5 183.7L572.5 168.4L648.5 173.6M496.5 199.8L572.5 202.6L648.5 138.0M496.5 169.4L572.5 163.7L648.5 189.5M496.5 195.7L572.5 129.4L648.5 189.7M496.5 154.2L572.5 157.7L648.5 69.6M496.5 206.0L572.5 92.6L648.5 -299.5M496.5 159.2L572.5 179.4L648.5 145.9M496.5 204.5L572.5 151.1L648.5 64.0M496.5 222.3L572.5 201.2L648.5 -286.1M496.5 206.9L572.5 148.1L648.5 178.0M496.5 163.8L572.5 163.1L648.5 149.0M496.5 180.4L572.5 182.7L648.5 167.1M496.5 173.9L572.5 141.0L648.5 102.3M496.5 195.2L572.5 198.8L648.5 99.2M496.5 177.3L572.5 182.7L648.5 112.9M496.5 206.9L572.5 168.7L648.5 131.3M496.5 134.1L572.5 196.6L648.5 126.0M496.5 139.4L572.5 196.2L648.5 102.7M496.5 174.4L572.5 146.4L648.5 137.6M496.5 199.0L572.5 184.8L648.5 178.5M496.5 200.4L572.5 197.1L648.5 134.3M496.5 169.9L572.5 187.4L648.5 147.6M496.5 176.2L572.5 189.4L648.5 137.0M496.5 204.8L572.5 192.7L648.5 -119.4M496.5 166.4L572.5 167.9L648.5 -51.5M496.5 162.6L572.5 197.5L648.5 97.5M496.5 170.8L572.5 203.4L648.5 108.9M496.5 174.7L572.5 175.8L648.5 94.1M496.5 178.3L572.5 179.0L648.5 131.1M496.5 183.2L572.5 138.3L648.5 155.5M496.5 191.4L572.5 201.4L648.5 117.2M496.5 198.5L572.5 189.5L648.5 93.0M496.5 150.2L572.5 146.6L648.5 125.5M496.5 213.4L572.5 168.3L648.5 108.5M496.5 180.6L572.5 189.5L648.5 58.4M496.5 161.8L572.5 194.1L648.5 133.7M496.5 104.1L572.5 158.5L648.5 143.5M496.5 192.1L572.5 178.6L648.5 94.6M496.5 144.8L572.5 194.4L648.5 72.7M496.5 148.0L572.5 187.4L648.5 30.5M496.5 158.5L572.5 186.6L648.5 105.2M496.5 124.9L572.5 150.5L648.5 69.0M496.5 214.3L572.5 214.4L648.5 84.0M496.5 156.8L572.5 190.1L648.5 -964.3M496.5 184.1L572.5 140.3L648.5 147.4M496.5 171.7L572.5 206.4L648.5 -227.5M496.5 184.9L572.5 184.6L648.5 103.7M496.5 201.7L572.5 154.5L648.5 53.6M496.5 216.2L572.5 202.0L648.5 93.6M496.5 172.1L572.5 189.9L648.5 117.7M496.5 187.8L572.5 195.5L648.5 113.7M496.5 209.8L572.5 174.5L648.5 122.1M496.5 184.8L572.5 192.0L648.5 143.5M496.5 206.6L572.5 198.5L648.5 49.9M496.5 202.7L572.5 176.6L648.5 110.9M496.5 178.3L572.5 173.6L648.5 131.2M496.5 163.1L572.5 144.6L648.5 143.3M496.5 217.2L572.5 187.2L648.5 166.4M496.5 184.5L572.5 182.5L648.5 138.3M496.5 168.5L572.5 190.6L648.5 76.6M496.5 209.5L572.5 143.2L648.5 135.9M496.5 191.2L572.5 141.9L648.5 96.3M496.5 175.8L572.5 194.5L648.5 104.4M496.5 159.5L572.5 211.1L648.5 98.3M496.5 208.0L572.5 108.0L648.5 33.3M496.5 214.4L572.5 208.5L648.5 147.4M496.5 198.8L572.5 207.3L648.5 160.2M496.5 196.5L572.5 190.2L648.5 153.3M496.5 184.3L572.5 110.3L648.5 145.3M496.5 182.5L572.5 145.4L648.5 103.7M496.5 217.8L572.5 184.4L648.5 182.1M496.5 166.6L572.5 159.9L648.5 117.8M496.5 215.1L572.5 182.7L648.5 173.0M496.5 176.1L572.5 145.5L648.5 108.0M496.5 172.3L572.5 188.1L648.5 181.5M496.5 174.4L572.5 125.3L648.5 161.9M496.5 177.1L572.5 163.4L648.5 113.9M496.5 175.9L572.5 190.6L648.5 73.5M496.5 202.6L572.5 207.1L648.5 130.2M496.5 203.4L572.5 144.2L648.5 120.7M496.5 114.7L572.5 165.2L648.5 38.7M496.5 138.4L572.5 197.3L648.5 122.5M496.5 146.9L572.5 196.4L648.5 168.7M496.5 163.6L572.5 189.4L648.5 53.8M496.5 214.3L572.5 186.6L648.5 203.2M496.5 126.0L572.5 183.2L648.5 154.8M496.5 189.8L572.5 179.7L648.5 171.1M496.5 184.4L572.5 179.3L648.5 90.8M496.5 165.3L572.5 190.9L648.5 80.0M496.5 200.3L572.5 103.1L648.5 157.2M496.5 148.3L572.5 185.3L648.5 43.2M496.5 221.7L572.5 192.4L648.5 147.3M496.5 151.2L572.5 165.2L648.5 167.0M496.5 172.1L572.5 196.1L648.5 89.7M496.5 203.9L572.5 168.1L648.5 164.1M496.5 163.2L572.5 175.9L648.5 84.9M496.5 153.4L572.5 149.3L648.5 152.6M496.5 164.6L572.5 197.4L648.5 117.8M496.5 160.5L572.5 209.0L648.5 66.8M496.5 190.9L572.5 143.9L648.5 122.2M496.5 157.1L572.5 183.2L648.5 -329.6M496.5 157.0L572.5 119.2L648.5 140.0M496.5 149.5L572.5 159.3L648.5 29.2M496.5 168.5L572.5 188.6L648.5 108.4M496.5 215.4L572.5 170.4L648.5 -92.7M496.5 172.0L572.5 200.3L648.5 83.6M496.5 211.3L572.5 197.4L648.5 164.1M496.5 202.9L572.5 178.6L648.5 137.0M496.5 188.4L572.5 175.8L648.5 136.7M496.5 181.0L572.5 206.5L648.5 129.9M496.5 193.1L572.5 157.4L648.5 128.0M496.5 177.8L572.5 165.2L648.5 126.7M496.5 173.6L572.5 147.8L648.5 123.5M496.5 181.2L572.5 203.7L648.5 15.5M496.5 183.6L572.5 163.2L648.5 -702.3M496.5 177.7L572.5 191.1L648.5 152.2M496.5 169.5L572.5 188.5L648.5 142.0M496.5 206.5L572.5 147.5L648.5 95.6M496.5 214.3L572.5 176.8L648.5 142.4M496.5 159.5L572.5 163.0L648.5 152.4M496.5 183.1L572.5 152.7L648.5 123.5M496.5 221.7L572.5 144.0L648.5 146.4M496.5 158.2L572.5 195.9L648.5 189.5M496.5 157.4L572.5 196.2L648.5 130.4M496.5 218.0L572.5 168.8L648.5 166.3M496.5 210.9L572.5 163.1L648.5 82.7M496.5 199.7L572.5 192.2L648.5 128.3M496.5 211.4L572.5 167.0L648.5 129.1M496.5 202.0L572.5 194.4L648.5 155.9M496.5 189.1L572.5 183.3L648.5 114.9M496.5 162.4L572.5 179.6L648.5 120.4M496.5 222.9L572.5 171.3L648.5 37.7M496.5 184.6L572.5 158.0L648.5 108.9M496.5 159.2L572.5 183.7L648.5 45.6M496.5 222.6L572.5 172.0L648.5 133.9M496.5 179.3L572.5 192.7L648.5 178.2M496.5 188.9L572.5 154.2L648.5 140.3M496.5 200.6L572.5 159.3L648.5 116.1M496.5 168.2L572.5 186.6L648.5 92.8M496.5 150.9L572.5 101.0L648.5 104.0M496.5 158.1L572.5 175.8L648.5 160.1M496.5 121.6L572.5 180.0L648.5 121.5M496.5 203.1L572.5 183.0L648.5 71.3M496.5 219.8L572.5 162.6L648.5 166.7M496.5 199.4L572.5 168.9L648.5 25.1M496.5 182.0L572.5 186.8L648.5 96.1M496.5 155.5L572.5 159.1L648.5 12.3M496.5 173.3L572.5 138.8L648.5 128.1M496.5 200.7L572.5 120.3L648.5 198.2M496.5 148.5L572.5 155.6L648.5 115.1M496.5 175.3L572.5 178.8L648.5 109.6M496.5 180.2L572.5 187.8L648.5 155.4M496.5 191.3L572.5 154.6L648.5 34.0M496.5 176.2L572.5 126.7L648.5 107.9M496.5 172.1L572.5 72.6L648.5 163.4M496.5 184.8L572.5 177.8L648.5 134.0M496.5 222.1L572.5 193.0L648.5 147.5M496.5 205.5L572.5 191.2L648.5 126.9M496.5 175.4L572.5 160.2L648.5 170.8M496.5 140.3L572.5 150.1L648.5 53.2M496.5 154.3L572.5 186.9L648.5 25.9M496.5 156.5L572.5 194.9L648.5 142.1M496.5 133.2L572.5 205.2L648.5 207.5M496.5 168.7L572.5 149.3L648.5 101.0M496.5 148.6L572.5 200.8L648.5 128.6M496.5 158.6L572.5 155.8L648.5 73.7M496.5 179.1L572.5 177.0L648.5 99.1M496.5 205.1L572.5 206.7L648.5 130.3M496.5 215.3L572.5 196.2L648.5 154.5M496.5 174.2L572.5 143.0L648.5 122.3M496.5 210.3L572.5 173.8L648.5 139.3M496.5 187.2L572.5 179.5L648.5 147.5M496.5 166.5L572.5 134.2L648.5 111.2M496.5 201.5L572.5 175.2L648.5 106.5M496.5 161.1L572.5 171.7L648.5 95.9M496.5 182.4L572.5 171.4L648.5 -48.0M496.5 204.7L572.5 172.2L648.5 168.6M496.5 170.1L572.5 140.1L648.5 114.5M496.5 166.3L572.5 186.1L648.5 66.7M496.5 196.5L572.5 139.8L648.5 59.5M496.5 172.0L572.5 121.2L648.5 153.8M496.5 208.4L572.5 185.8L648.5 95.6M496.5 180.9L572.5 161.4L648.5 172.8M496.5 176.8L572.5 197.0L648.5 -444.2M496.5 206.8L572.5 172.5L648.5 127.5M496.5 181.2L572.5 134.7L648.5 160.6M496.5 141.8L572.5 145.8L648.5 152.4M496.5 199.5L572.5 183.6L648.5 146.3M496.5 208.4L572.5 158.3L648.5 153.2M496.5 212.4L572.5 160.7L648.5 136.1M496.5 202.2L572.5 171.4L648.5 131.3M496.5 207.9L572.5 170.4L648.5 107.3M496.5 215.1L572.5 99.1L648.5 105.3M496.5 180.9L572.5 213.4L648.5 103.3M496.5 175.7L572.5 187.5L648.5 187.7M496.5 205.6L572.5 148.1L648.5 84.8M496.5 181.6L572.5 177.4L648.5 148.9M496.5 158.9L572.5 165.5L648.5 110.5M496.5 174.7L572.5 166.7L648.5 127.2M496.5 178.7L572.5 180.0L648.5 64.3M496.5 166.1L572.5 174.2L648.5 113.6M496.5 199.3L572.5 190.5L648.5 125.2M496.5 159.8L572.5 174.9L648.5 99.4M496.5 122.7L572.5 152.7L648.5 93.0M496.5 199.1L572.5 143.7L648.5 119.7M496.5 217.1L572.5 160.3L648.5 -216.4M496.5 200.5L572.5 180.5L648.5 171.4M496.5 205.6L572.5 183.5L648.5 124.8M496.5 177.5L572.5 204.4L648.5 151.5M496.5 148.9L572.5 179.2L648.5 6.5M496.5 168.6L572.5 194.1L648.5 116.6M496.5 128.4L572.5 189.6L648.5 90.9M496.5 171.5L572.5 182.9L648.5 142.5M496.5 180.3L572.5 173.4L648.5 132.8M496.5 217.4L572.5 171.7L648.5 109.1M496.5 173.0L572.5 174.8L648.5 50.3M496.5 198.1L572.5 196.8L648.5 163.1M496.5 195.8L572.5 185.2L648.5 114.7M496.5 189.1L572.5 156.2L648.5 191.9M496.5 132.6L572.5 177.8L648.5 134.2M496.5 159.6L572.5 164.5L648.5 114.9M496.5 181.4L572.5 173.9L648.5 42.9M496.5 211.6L572.5 124.5L648.5 124.3M496.5 193.1L572.5 116.7L648.5 97.5M496.5 188.9L572.5 61.8L648.5 114.0M496.5 159.4L572.5 183.0L648.5 99.7M496.5 168.8L572.5 151.2L648.5 108.9M496.5 169.4L572.5 198.9L648.5 88.6M496.5 204.1L572.5 153.9L648.5 61.6M496.5 157.1L572.5 161.8L648.5 62.9M496.5 75.0L572.5 183.0L648.5 154.8M496.5 211.3L572.5 124.9L648.5 161.5M496.5 205.8L572.5 170.0L648.5 -281.8M496.5 180.8L572.5 202.0L648.5 142.3M496.5 156.6L572.5 123.0L648.5 36.3M496.5 176.5L572.5 171.5L648.5 142.8M496.5 180.1L572.5 150.2L648.5 87.5M496.5 138.9L572.5 187.9L648.5 121.5M496.5 206.8L572.5 189.9L648.5 154.3M496.5 218.6L572.5 197.4L648.5 125.1M496.5 213.3L572.5 195.2L648.5 120.2M496.5 162.7L572.5 153.2L648.5 -3.5M496.5 158.3L572.5 158.7L648.5 160.2M496.5 193.3L572.5 203.2L648.5 -20.1M496.5 212.5L572.5 174.1L648.5 173.2M496.5 203.9L572.5 173.6L648.5 39.8M496.5 174.8L572.5 190.4L648.5 123.6M496.5 158.7L572.5 167.0L648.5 107.4M496.5 199.4L572.5 191.1L648.5 191.8M496.5 203.6L572.5 146.0L648.5 102.3M496.5 205.3L572.5 181.8L648.5 136.2M496.5 199.5L572.5 171.3L648.5 115.1M496.5 168.2L572.5 219.3L648.5 85.7M496.5 180.1L572.5 186.5L648.5 52.3M496.5 176.3L572.5 176.3L648.5 68.4M496.5 182.0L572.5 190.0L648.5 140.6M496.5 180.1L572.5 182.2L648.5 113.5M496.5 211.4L572.5 195.5L648.5 116.9M496.5 208.0L572.5 153.7L648.5 150.4M496.5 176.7L572.5 197.1L648.5 101.8M496.5 175.4L572.5 184.8L648.5 109.7M496.5 156.3L572.5 133.3L648.5 115.0M496.5 186.6L572.5 144.1L648.5 129.7M496.5 204.7L572.5 179.1L648.5 107.0M496.5 190.1L572.5 200.9L648.5 130.7M496.5 191.1L572.5 208.4L648.5 -12.2M496.5 171.8L572.5 168.3L648.5 70.1M496.5 188.9L572.5 173.5L648.5 81.6M496.5 172.0L572.5 185.0L648.5 124.0M496.5 171.1L572.5 185.0L648.5 104.3M496.5 171.1L572.5 101.5L648.5 181.8M496.5 169.6L572.5 154.1L648.5 109.3M496.5 206.0L572.5 178.1L648.5 150.7M496.5 152.6L572.5 183.0L648.5 144.3M496.5 132.7L572.5 185.6L648.5 -83.7M496.5 161.5L572.5 170.1L648.5 153.4M496.5 133.5L572.5 183.8L648.5 183.9M496.5 171.8L572.5 175.7L648.5 160.9M496.5 195.4L572.5 187.3L648.5 -26.4M496.5 168.3L572.5 157.7L648.5 159.8M496.5 181.9L572.5 172.1L648.5 140.7M496.5 183.8L572.5 198.7L648.5 6.6M496.5 131.3L572.5 46.9L648.5 93.0M496.5 202.1L572.5 170.8L648.5 151.8M496.5 149.4L572.5 187.4L648.5 127.2M496.5 195.0L572.5 199.8L648.5 114.3M496.5 214.5L572.5 175.7L648.5 113.2M496.5 161.7L572.5 190.1L648.5 122.1M496.5 177.9L572.5 119.8L648.5 144.8M496.5 175.2L572.5 163.9L648.5 133.9M496.5 174.1L572.5 189.7L648.5 173.9M496.5 149.3L572.5 206.4L648.5 -1557.0M496.5 170.8L572.5 155.1L648.5 165.7M496.5 185.2L572.5 205.4L648.5 76.7M496.5 181.1L572.5 164.8L648.5 10.2M496.5 167.8L572.5 174.2L648.5 127.8M496.5 192.7L572.5 215.3L648.5 152.3M496.5 169.2L572.5 183.1L648.5 99.7M496.5 216.7L572.5 121.8L648.5 150.2M496.5 181.3L572.5 194.9L648.5 151.1M496.5 179.1L572.5 211.4L648.5 126.5M496.5 160.2L572.5 205.9L648.5 158.3M496.5 203.8L572.5 179.6L648.5 149.6M496.5 183.2L572.5 170.6L648.5 101.5M496.5 167.6L572.5 154.5L648.5 153.7M496.5 57.9L572.5 171.2L648.5 150.9M496.5 174.4L572.5 195.9L648.5 -263.3M496.5 163.1L572.5 187.1L648.5 94.0M496.5 192.0L572.5 183.0L648.5 21.1M496.5 101.1L572.5 181.4L648.5 167.2M496.5 183.5L572.5 200.5L648.5 108.1M496.5 183.8L572.5 160.7L648.5 190.3M496.5 175.4L572.5 145.5L648.5 74.5M496.5 207.5L572.5 180.8L648.5 115.9M496.5 202.5L572.5 174.1L648.5 126.9M496.5 187.7L572.5 200.5L648.5 134.3M496.5 198.9L572.5 172.6L648.5 97.4M496.5 152.9L572.5 193.6L648.5 166.2M496.5 192.0L572.5 195.0L648.5 141.0M496.5 99.7L572.5 155.3L648.5 156.7M496.5 173.5L572.5 174.4L648.5 116.2M496.5 197.7L572.5 187.6L648.5 141.6M496.5 176.3L572.5 205.3L648.5 1.9M496.5 162.5L572.5 177.2L648.5 111.4M496.5 180.0L572.5 121.5L648.5 109.0M496.5 169.8L572.5 169.2L648.5 133.0M496.5 185.6L572.5 171.5L648.5 124.3M496.5 199.3L572.5 139.3L648.5 170.0M496.5 182.6L572.5 95.3L648.5 123.6M496.5 126.3L572.5 161.1L648.5 22.1M496.5 190.9L572.5 145.6L648.5 166.8M496.5 182.3L572.5 171.2L648.5 133.4M496.5 211.8L572.5 163.0L648.5 76.5M496.5 197.3L572.5 164.1L648.5 119.3M496.5 173.8L572.5 141.5L648.5 129.4M496.5 190.1L572.5 186.2L648.5 53.9M496.5 150.3L572.5 167.4L648.5 93.5M496.5 156.5L572.5 167.5L648.5 104.4M496.5 193.0L572.5 177.7L648.5 98.3M496.5 183.8L572.5 188.4L648.5 117.5M496.5 165.8L572.5 151.7L648.5 116.7M496.5 173.6L572.5 183.9L648.5 20.9M496.5 189.5L572.5 203.1L648.5 150.5M496.5 215.7L572.5 154.5L648.5 92.8M496.5 143.4L572.5 201.6L648.5 185.0M496.5 181.3L572.5 152.5L648.5 -1.3M496.5 178.2L572.5 213.0L648.5 126.2M496.5 199.1L572.5 174.9L648.5 157.6M496.5 139.3L572.5 107.8L648.5 54.7M496.5 184.2L572.5 179.8L648.5 123.1M496.5 178.0L572.5 137.3L648.5 85.1M496.5 217.5L572.5 183.9L648.5 205.0M496.5 193.7L572.5 191.0L648.5 163.9M496.5 183.3L572.5 181.4L648.5 129.7M496.5 173.4L572.5 145.6L648.5 157.7M496.5 165.8L572.5 132.0L648.5 103.7M496.5 187.3L572.5 125.8L648.5 149.4M496.5 156.2L572.5 147.7L648.5 172.6M496.5 185.4L572.5 175.4L648.5 83.9M496.5 186.7L572.5 208.2L648.5 154.9M496.5 182.6L572.5 190.8L648.5 122.8M496.5 214.4L572.5 122.1L648.5 189.2M496.5 219.5L572.5 203.7L648.5 113.1M496.5 127.2L572.5 161.7L648.5 149.7M496.5 215.2L572.5 163.4L648.5 129.5M496.5 198.1L572.5 204.7L648.5 -41.9M496.5 169.7L572.5 166.2L648.5 79.5M496.5 199.5L572.5 184.4L648.5 94.8M496.5 154.6L572.5 170.4L648.5 77.4M496.5 217.6L572.5 178.1L648.5 148.4M496.5 180.5L572.5 180.6L648.5 105.0M496.5 169.2L572.5 194.4L648.5 125.3M496.5 112.2L572.5 208.6L648.5 122.3M496.5 142.7L572.5 110.6L648.5 57.6M496.5 200.9L572.5 193.5L648.5 145.3M496.5 162.6L572.5 182.0L648.5 197.9M496.5 177.5L572.5 184.5L648.5 -3.5M496.5 209.1L572.5 182.7L648.5 107.8M496.5 196.7L572.5 191.6L648.5 147.7M496.5 157.2L572.5 160.4L648.5 120.9M496.5 191.6L572.5 176.1L648.5 164.1M496.5 205.3L572.5 186.7L648.5 142.2M496.5 199.3L572.5 188.8L648.5 66.2M496.5 210.0L572.5 161.9L648.5 46.2M496.5 214.0L572.5 194.3L648.5 119.5M496.5 176.1L572.5 161.0L648.5 -110.1M496.5 173.9L572.5 131.3L648.5 119.5M496.5 158.3L572.5 141.9L648.5 121.6M496.5 213.8L572.5 159.6L648.5 156.8M496.5 208.3L572.5 204.7L648.5 132.7M496.5 175.2L572.5 153.7L648.5 156.8M496.5 181.3L572.5 167.8L648.5 88.4M496.5 189.5L572.5 127.8L648.5 193.1M496.5 209.5L572.5 187.0L648.5 91.1M496.5 193.1L572.5 184.9L648.5 116.1M496.5 212.4L572.5 123.1L648.5 180.5M496.5 142.8L572.5 191.3L648.5 133.0M496.5 168.7L572.5 136.4L648.5 146.3M496.5 206.5L572.5 164.8L648.5 150.8M496.5 153.2L572.5 212.5L648.5 75.6M496.5 207.3L572.5 184.7L648.5 104.7M496.5 172.0L572.5 185.0L648.5 134.4M496.5 181.5L572.5 200.1L648.5 114.7M496.5 195.5L572.5 207.1L648.5 86.2M496.5 149.9L572.5 172.9L648.5 108.3M496.5 215.3L572.5 195.6L648.5 98.3M496.5 194.1L572.5 189.5L648.5 -11.7M496.5 194.0L572.5 194.4L648.5 144.8M496.5 216.8L572.5 180.8L648.5 72.6M496.5 213.9L572.5 161.1L648.5 -69.2M496.5 182.6L572.5 151.0L648.5 132.8M496.5 179.8L572.5 160.6L648.5 31.7M496.5 207.1L572.5 183.4L648.5 65.1M496.5 173.0L572.5 179.1L648.5 194.9M496.5 175.1L572.5 158.7L648.5 94.5M496.5 167.5L572.5 133.8L648.5 63.2M496.5 192.1L572.5 177.3L648.5 138.4M496.5 188.2L572.5 199.7L648.5 111.3M496.5 171.6L572.5 167.3L648.5 77.1M496.5 199.1L572.5 156.9L648.5 149.8M496.5 204.2L572.5 185.6L648.5 67.4M496.5 210.0L572.5 136.1L648.5 91.9M496.5 173.8L572.5 185.9L648.5 140.5M496.5 152.6L572.5 175.1L648.5 61.4M496.5 217.1L572.5 165.0L648.5 101.3M496.5 192.2L572.5 116.9L648.5 139.7M496.5 167.7L572.5 198.2L648.5 133.2M496.5 143.8L572.5 160.0L648.5 88.5M496.5 178.2L572.5 151.8L648.5 88.0M496.5 202.6L572.5 178.0L648.5 34.1M496.5 166.9L572.5 142.7L648.5 137.0M496.5 106.3L572.5 189.4L648.5 37.6M496.5 174.5L572.5 198.1L648.5 143.7M496.5 166.1L572.5 199.2L648.5 75.0M496.5 131.5L572.5 190.1L648.5 114.1M496.5 211.7L572.5 196.8L648.5 126.1M496.5 162.5L572.5 161.2L648.5 85.0M496.5 140.3L572.5 175.0L648.5 124.1M496.5 156.4L572.5 202.0L648.5 38.5M496.5 177.5L572.5 118.3L648.5 72.4M496.5 190.2L572.5 168.8L648.5 55.6M496.5 194.9L572.5 204.7L648.5 129.7M496.5 208.6L572.5 207.1L648.5 44.3M496.5 193.7L572.5 173.7L648.5 64.6M496.5 206.8L572.5 128.9L648.5 106.6M496.5 183.2L572.5 182.6L648.5 107.0M496.5 186.5L572.5 145.2L648.5 136.6M496.5 195.7L572.5 115.7L648.5 68.1M496.5 191.6L572.5 153.9L648.5 153.8M496.5 180.2L572.5 182.9L648.5 158.1M496.5 207.7L572.5 200.3L648.5 27.3M496.5 166.9L572.5 189.7L648.5 154.3M496.5 177.7L572.5 130.1L648.5 162.5M496.5 168.0L572.5 174.7L648.5 59.8M496.5 189.7L572.5 195.5L648.5 112.6M496.5 186.3L572.5 184.7L648.5 124.4M496.5 178.4L572.5 180.1L648.5 141.8M496.5 179.1L572.5 138.6L648.5 109.2M496.5 191.1L572.5 188.2L648.5 146.4M496.5 189.5L572.5 102.0L648.5 140.2M496.5 194.3L572.5 169.2L648.5 78.4M496.5 190.5L572.5 165.4L648.5 145.2M496.5 199.0L572.5 197.5L648.5 144.5M496.5 200.0L572.5 163.9L648.5 134.7M496.5 203.5L572.5 168.1L648.5 105.2M496.5 144.1L572.5 153.7L648.5 102.0M496.5 197.4L572.5 190.6L648.5 64.4M496.5 183.4L572.5 169.5L648.5 94.6M496.5 203.4L572.5 203.4L648.5 125.9M496.5 178.4L572.5 195.8L648.5 139.3M496.5 149.2L572.5 73.0L648.5 178.5M496.5 198.5L572.5 186.0L648.5 109.7M496.5 178.1L572.5 192.0L648.5 123.5M496.5 182.7L572.5 148.2L648.5 93.0M496.5 160.3L572.5 179.9L648.5 191.5M496.5 182.9L572.5 51.3L648.5 96.2M496.5 183.3L572.5 173.8L648.5 140.4M496.5 186.7L572.5 154.8L648.5 153.5M496.5 216.0L572.5 181.9L648.5 188.7M496.5 156.3L572.5 138.3L648.5 69.0M496.5 133.5L572.5 174.7L648.5 176.3M496.5 200.3L572.5 42.3L648.5 18.4M496.5 160.1L572.5 191.1L648.5 56.2M496.5 180.8L572.5 163.0L648.5 118.5M496.5 140.6L572.5 154.1L648.5 160.2M496.5 193.5L572.5 198.2L648.5 24.6M496.5 170.6L572.5 187.7L648.5 47.3M496.5 144.6L572.5 192.4L648.5 144.6M496.5 167.6L572.5 205.6L648.5 84.9M496.5 175.7L572.5 167.7L648.5 201.6M496.5 181.0L572.5 216.7L648.5 157.1M496.5 194.5L572.5 200.9L648.5 98.4M496.5 177.0L572.5 198.7L648.5 115.3M496.5 201.6L572.5 169.1L648.5 112.8M496.5 130.9L572.5 180.1L648.5 -0.3M496.5 166.5L572.5 143.7L648.5 155.0M496.5 182.6L572.5 137.1L648.5 131.6M496.5 209.8L572.5 172.3L648.5 136.7M496.5 151.8L572.5 196.1L648.5 112.6M496.5 142.2L572.5 155.7L648.5 168.8M496.5 168.8L572.5 192.1L648.5 79.1M496.5 156.8L572.5 184.0L648.5 125.6M496.5 156.8L572.5 175.7L648.5 153.4M496.5 179.5L572.5 124.1L648.5 145.1M496.5 184.2L572.5 49.6L648.5 135.5M496.5 176.2L572.5 135.0L648.5 128.8M496.5 144.7L572.5 186.6L648.5 177.9M496.5 192.0L572.5 146.7L648.5 84.4M496.5 210.0L572.5 132.4L648.5 163.7M496.5 176.1L572.5 193.6L648.5 118.8M496.5 176.3L572.5 171.6L648.5 187.2M496.5 180.6L572.5 190.1L648.5 117.0M496.5 174.9L572.5 189.1L648.5 41.9M496.5 204.2L572.5 173.0L648.5 98.0M496.5 198.5L572.5 171.6L648.5 102.6M496.5 187.8L572.5 191.8L648.5 40.6M496.5 180.5L572.5 174.7L648.5 105.9M496.5 167.4L572.5 199.4L648.5 105.0M496.5 161.6L572.5 179.4L648.5 121.9M496.5 174.9L572.5 171.5L648.5 -0.8M496.5 182.1L572.5 186.1L648.5 -103.3M496.5 201.1L572.5 203.5L648.5 144.6M496.5 190.4L572.5 191.9L648.5 94.4M496.5 210.4L572.5 164.8L648.5 -32.0M496.5 196.2L572.5 145.3L648.5 180.3M496.5 170.3L572.5 145.8L648.5 40.5M496.5 166.8L572.5 143.3L648.5 139.4M496.5 202.3L572.5 109.8L648.5 97.3M496.5 149.4L572.5 185.5L648.5 159.8M496.5 218.7L572.5 138.2L648.5 9.1M496.5 168.0L572.5 192.6L648.5 85.7M496.5 180.2L572.5 110.0L648.5 196.9M496.5 183.3L572.5 145.1L648.5 62.9M496.5 171.4L572.5 196.0L648.5 180.0M496.5 190.0L572.5 155.4L648.5 173.7M496.5 107.1L572.5 144.2L648.5 157.6M496.5 191.2L572.5 192.6L648.5 147.5M496.5 188.1L572.5 166.5L648.5 96.6M496.5 173.7L572.5 148.9L648.5 131.7M496.5 215.3L572.5 103.8L648.5 69.4M496.5 183.1L572.5 187.9L648.5 100.0M496.5 208.9L572.5 120.1L648.5 95.2M496.5 144.4L572.5 195.9L648.5 142.7M496.5 192.4L572.5 193.0L648.5 183.1M496.5 183.2L572.5 129.6L648.5 118.0M496.5 213.5L572.5 153.3L648.5 -0.7M496.5 127.7L572.5 191.7L648.5 142.4M496.5 213.1L572.5 120.6L648.5 68.4M496.5 209.9L572.5 161.3L648.5 106.6M496.5 198.2L572.5 170.5L648.5 126.7M496.5 218.4L572.5 182.1L648.5 120.6M496.5 208.3L572.5 214.2L648.5 121.7M496.5 191.5L572.5 175.3L648.5 163.6M496.5 155.3L572.5 146.1L648.5 56.4M496.5 153.8L572.5 176.8L648.5 174.6M496.5 206.1L572.5 154.2L648.5 147.4M496.5 195.2L572.5 178.1L648.5 93.3M496.5 166.4L572.5 128.0L648.5 129.0M496.5 151.9L572.5 216.6L648.5 130.8M496.5 200.9L572.5 162.1L648.5 176.6M496.5 188.2L572.5 194.7L648.5 136.2M496.5 182.1L572.5 170.3L648.5 65.8M496.5 179.0L572.5 156.6L648.5 -11.2M496.5 187.9L572.5 138.0L648.5 33.5M496.5 130.3L572.5 151.4L648.5 80.0M496.5 187.1L572.5 136.1L648.5 90.6M496.5 151.5L572.5 196.0L648.5 92.7M496.5 169.7L572.5 172.2L648.5 70.6M496.5 28.5L572.5 210.8L648.5 114.3M496.5 141.1L572.5 166.8L648.5 197.2M496.5 215.5L572.5 205.1L648.5 70.5M496.5 166.6L572.5 142.1L648.5 160.2M496.5 216.8L572.5 170.8L648.5 74.5M496.5 145.3L572.5 182.6L648.5 71.8M496.5 188.5L572.5 190.1L648.5 171.7M496.5 217.4L572.5 171.4L648.5 42.8M496.5 203.5L572.5 189.3L648.5 151.7M496.5 190.0L572.5 202.5L648.5 130.6M496.5 142.7L572.5 165.7L648.5 140.3M496.5 179.6L572.5 194.1L648.5 190.1M496.5 171.1L572.5 163.4L648.5 142.8M496.5 197.7L572.5 195.7L648.5 208.3M496.5 193.8L572.5 199.7L648.5 98.9M496.5 211.3L572.5 83.0L648.5 119.0M496.5 192.3L572.5 159.6L648.5 112.8M496.5 189.5L572.5 137.2L648.5 129.5M496.5 184.3L572.5 182.7L648.5 116.5M496.5 201.9L572.5 177.6L648.5 54.6M496.5 188.9L572.5 176.9L648.5 178.7M496.5 194.7L572.5 99.8L648.5 123.3M496.5 178.5L572.5 157.4L648.5 89.5M496.5 199.1L572.5 174.1L648.5 82.3M496.5 198.5L572.5 177.6L648.5 90.8M496.5 204.0L572.5 175.0L648.5 63.8M496.5 200.6L572.5 143.5L648.5 232.4M496.5 192.1L572.5 175.5L648.5 119.9M496.5 206.5L572.5 174.7L648.5 79.9M496.5 154.0L572.5 130.2L648.5 80.7M496.5 160.5L572.5 145.8L648.5 111.4M496.5 177.1L572.5 152.2L648.5 111.5M496.5 167.7L572.5 98.3L648.5 138.3M496.5 209.5L572.5 178.3L648.5 92.4M496.5 199.9L572.5 198.0L648.5 59.2M496.5 196.6L572.5 204.7L648.5 131.4M496.5 179.9L572.5 177.5L648.5 141.5M496.5 166.6L572.5 169.7L648.5 -32.7M496.5 165.2L572.5 145.7L648.5 97.3M496.5 212.5L572.5 202.3L648.5 71.5M496.5 186.5L572.5 201.2L648.5 115.7M496.5 157.8L572.5 181.3L648.5 127.5M496.5 191.7L572.5 182.9L648.5 74.4M496.5 174.8L572.5 202.2L648.5 97.5M496.5 215.0L572.5 180.7L648.5 150.6M496.5 183.7L572.5 156.4L648.5 35.4M496.5 191.8L572.5 182.3L648.5 133.3M496.5 218.0L572.5 76.5L648.5 99.7M496.5 166.7L572.5 155.8L648.5 108.7M496.5 149.8L572.5 193.6L648.5 151.0M496.5 166.0L572.5 182.0L648.5 135.6M496.5 193.6L572.5 202.9L648.5 86.8M496.5 188.5L572.5 89.2L648.5 67.6M496.5 200.2L572.5 183.5L648.5 120.8M496.5 171.2L572.5 184.3L648.5 76.3M496.5 174.5L572.5 156.4L648.5 21.4M496.5 147.3L572.5 184.8L648.5 125.3M496.5 184.6L572.5 191.5L648.5 104.9M496.5 162.6L572.5 179.2L648.5 146.0M496.5 190.5L572.5 146.6L648.5 116.5M496.5 201.0L572.5 146.3L648.5 -3.1M496.5 184.8L572.5 202.6L648.5 130.0M496.5 203.7L572.5 205.9L648.5 5.0M496.5 203.7L572.5 165.9L648.5 -1.4M496.5 167.7L572.5 184.9L648.5 113.5M496.5 168.8L572.5 188.0L648.5 110.3M496.5 202.5L572.5 145.4L648.5 38.2M496.5 204.6L572.5 165.9L648.5 99.5M496.5 190.1L572.5 188.8L648.5 184.5M496.5 202.0L572.5 160.6L648.5 112.9M496.5 169.0L572.5 193.1L648.5 126.5M496.5 193.5L572.5 188.9L648.5 155.9M496.5 210.8L572.5 107.3L648.5 69.2M496.5 204.0L572.5 183.3L648.5 -92.2M496.5 176.1L572.5 162.5L648.5 105.7M496.5 124.6L572.5 183.6L648.5 120.7M496.5 174.0L572.5 184.8L648.5 89.2M496.5 211.7L572.5 198.9L648.5 131.8M496.5 205.2L572.5 199.2L648.5 134.4M496.5 181.7L572.5 136.3L648.5 146.0M496.5 190.1L572.5 86.2L648.5 103.5M496.5 182.1L572.5 157.8L648.5 96.6M496.5 127.0L572.5 161.0L648.5 143.2M496.5 207.2L572.5 188.9L648.5 115.2M496.5 206.3L572.5 178.4L648.5 60.5M496.5 187.0L572.5 124.0L648.5 102.2M496.5 184.6L572.5 56.1L648.5 49.0M496.5 180.8L572.5 156.4L648.5 141.4M496.5 166.5L572.5 165.7L648.5 68.0M496.5 186.0L572.5 141.1L648.5 168.1M496.5 160.0L572.5 172.8L648.5 103.3M496.5 181.3L572.5 192.4L648.5 -40.5M496.5 177.0L572.5 194.6L648.5 47.3M496.5 215.5L572.5 182.8L648.5 147.3M496.5 204.3L572.5 185.6L648.5 149.6M496.5 195.0L572.5 212.8L648.5 73.6M496.5 170.7L572.5 207.2L648.5 203.3M496.5 200.3L572.5 152.5L648.5 194.8M496.5 205.9L572.5 146.7L648.5 85.2M496.5 202.2L572.5 152.1L648.5 161.9M496.5 138.1L572.5 181.9L648.5 123.7M496.5 213.0L572.5 191.0L648.5 134.3M496.5 180.1L572.5 177.7L648.5 64.8M496.5 183.7L572.5 168.0L648.5 170.9M496.5 147.9L572.5 187.3L648.5 158.1M496.5 169.3L572.5 141.7L648.5 118.2M496.5 193.3L572.5 191.2L648.5 133.8M496.5 165.2L572.5 212.7L648.5 140.9M496.5 151.9L572.5 156.8L648.5 116.4M496.5 193.6L572.5 149.0L648.5 133.8M496.5 214.7L572.5 180.7L648.5 102.1M496.5 208.9L572.5 143.6L648.5 133.2M496.5 183.3L572.5 137.4L648.5 190.5M496.5 206.3L572.5 214.5L648.5 156.4M496.5 181.6L572.5 165.1L648.5 20.4M496.5 156.8L572.5 199.6L648.5 101.9M496.5 180.0L572.5 156.2L648.5 148.6M496.5 117.4L572.5 169.5L648.5 127.6M496.5 187.9L572.5 150.9L648.5 60.2M496.5 209.2L572.5 182.5L648.5 -193.0M496.5 180.2L572.5 189.4L648.5 20.1M496.5 160.9L572.5 168.8L648.5 64.5M496.5 211.3L572.5 66.7L648.5 137.6M496.5 174.4L572.5 164.1L648.5 151.8M496.5 139.0L572.5 197.0L648.5 192.7M496.5 179.6L572.5 176.9L648.5 140.2M496.5 132.3L572.5 182.0L648.5 162.2M496.5 212.6L572.5 133.1L648.5 174.9M496.5 171.8L572.5 172.7L648.5 140.5M496.5 214.6L572.5 183.3L648.5 130.3M496.5 215.4L572.5 171.3L648.5 165.1M496.5 212.3L572.5 191.2L648.5 167.2M496.5 158.9L572.5 162.7L648.5 37.4M496.5 177.9L572.5 197.6L648.5 83.6M496.5 148.2L572.5 186.3L648.5 161.4M496.5 203.6L572.5 170.4L648.5 161.1M496.5 214.9L572.5 201.7L648.5 138.0M496.5 164.3L572.5 201.2L648.5 103.7M496.5 200.7L572.5 192.4L648.5 135.7M496.5 213.1L572.5 124.0L648.5 151.6M496.5 166.9L572.5 149.9L648.5 106.8M496.5 159.5L572.5 174.0L648.5 145.0M496.5 202.2L572.5 143.6L648.5 164.0M496.5 181.2L572.5 148.9L648.5 167.0M496.5 172.4L572.5 189.0L648.5 184.5M496.5 205.1L572.5 197.6L648.5 127.2M496.5 203.0L572.5 135.0L648.5 72.0M496.5 178.5L572.5 189.9L648.5 145.8M496.5 139.4L572.5 156.4L648.5 130.2M496.5 205.6L572.5 203.9L648.5 109.2M496.5 165.4L572.5 177.4L648.5 128.4M496.5 171.2L572.5 199.6L648.5 147.1M496.5 179.9L572.5 155.7L648.5 48.0M496.5 189.2L572.5 152.2L648.5 -48.8M496.5 203.0L572.5 164.3L648.5 112.4M496.5 168.6L572.5 151.3L648.5 128.0M496.5 186.9L572.5 187.6L648.5 154.7M496.5 221.6L572.5 164.1L648.5 37.6M496.5 176.7L572.5 157.9L648.5 180.0M496.5 202.2L572.5 193.7L648.5 156.9M496.5 187.4L572.5 157.5L648.5 156.0M496.5 121.7L572.5 167.8L648.5 170.4M496.5 176.4L572.5 162.0L648.5 123.0M496.5 218.6L572.5 181.1L648.5 12.0M496.5 194.8L572.5 176.7L648.5 142.9M496.5 208.0L572.5 161.7L648.5 135.9M496.5 159.2L572.5 172.2L648.5 144.6M496.5 225.9L572.5 158.8L648.5 96.0M496.5 171.0L572.5 201.0L648.5 119.3M496.5 182.7L572.5 145.3L648.5 113.8M496.5 193.1L572.5 192.4L648.5 137.7M496.5 174.6L572.5 141.5L648.5 109.6M496.5 130.8L572.5 202.4L648.5 107.3M496.5 216.7L572.5 189.2L648.5 106.7M496.5 196.6L572.5 168.6L648.5 62.5M496.5 184.1L572.5 164.4L648.5 141.8M496.5 182.9L572.5 186.0L648.5 185.9M496.5 190.2L572.5 194.4L648.5 159.9M496.5 172.8L572.5 157.6L648.5 39.4M496.5 180.3L572.5 142.3L648.5 112.6M496.5 194.3L572.5 194.2L648.5 116.0M496.5 216.6L572.5 199.2L648.5 150.7M496.5 167.1L572.5 188.9L648.5 101.9M496.5 142.1L572.5 178.7L648.5 82.3M496.5 151.8L572.5 206.5L648.5 106.5M496.5 173.1L572.5 196.4L648.5 49.1M496.5 151.0L572.5 156.4L648.5 118.7M496.5 212.0L572.5 192.6L648.5 71.4M496.5 162.6L572.5 193.0L648.5 -46.7M496.5 174.4L572.5 121.1L648.5 -91.4M496.5 183.3L572.5 140.7L648.5 149.5M496.5 151.7L572.5 113.3L648.5 74.6M496.5 186.1L572.5 175.7L648.5 139.2M496.5 191.6L572.5 179.0L648.5 69.6M496.5 204.8L572.5 185.2L648.5 96.8M496.5 215.7L572.5 202.8L648.5 115.3M496.5 193.5L572.5 210.1L648.5 87.9M496.5 129.0L572.5 177.7L648.5 6.9M496.5 124.0L572.5 192.2L648.5 166.9M496.5 196.9L572.5 157.1L648.5 97.1M496.5 178.3L572.5 144.7L648.5 167.9M496.5 137.5L572.5 203.5L648.5 34.4M496.5 205.0L572.5 201.6L648.5 106.5M496.5 193.4L572.5 169.5L648.5 140.2M496.5 210.8L572.5 125.7L648.5 96.4M496.5 134.3L572.5 117.6L648.5 112.0M496.5 197.6L572.5 190.2L648.5 82.3M496.5 191.4L572.5 173.4L648.5 140.5M496.5 182.7L572.5 123.8L648.5 154.1M496.5 202.2L572.5 191.3L648.5 -20.0M496.5 87.3L572.5 195.4L648.5 125.0M496.5 150.8L572.5 127.9L648.5 82.0M496.5 111.3L572.5 190.5L648.5 135.6M496.5 217.9L572.5 198.6L648.5 120.6M496.5 162.6L572.5 115.6L648.5 143.0M496.5 185.5L572.5 184.7L648.5 113.6M496.5 206.3L572.5 184.2L648.5 130.7M496.5 179.6L572.5 157.4L648.5 109.0M496.5 132.6L572.5 119.4L648.5 120.0M496.5 149.2L572.5 149.8L648.5 160.1M496.5 194.1L572.5 167.5L648.5 87.7M496.5 16.4L572.5 162.0L648.5 -8933.0M496.5 149.3L572.5 161.8L648.5 48.8M496.5 200.3L572.5 166.0L648.5 145.8M496.5 200.8L572.5 205.3L648.5 185.0M496.5 196.4L572.5 165.4L648.5 120.8M496.5 182.2L572.5 200.4L648.5 133.6M496.5 193.5L572.5 190.3L648.5 59.5M496.5 196.4L572.5 170.5L648.5 203.7M496.5 154.6L572.5 176.9L648.5 89.7M496.5 196.2L572.5 163.7L648.5 113.6M496.5 176.9L572.5 174.6L648.5 43.7M496.5 195.4L572.5 160.0L648.5 119.5M496.5 185.5L572.5 100.9L648.5 198.9M496.5 145.8L572.5 196.6L648.5 -10.9M496.5 178.9L572.5 137.4L648.5 112.2M496.5 159.1L572.5 99.8L648.5 128.8M496.5 180.9L572.5 184.1L648.5 46.7M496.5 147.7L572.5 182.6L648.5 -32.0M496.5 179.9L572.5 176.7L648.5 38.2M496.5 146.7L572.5 160.8L648.5 100.6M496.5 207.5L572.5 189.7L648.5 94.9M496.5 147.7L572.5 182.8L648.5 84.9M496.5 168.1L572.5 175.0L648.5 28.7M496.5 201.2L572.5 172.4L648.5 58.4M496.5 196.0L572.5 122.7L648.5 182.0M496.5 216.5L572.5 185.5L648.5 103.3M496.5 185.9L572.5 148.0L648.5 173.0M496.5 175.6L572.5 149.3L648.5 148.1M496.5 193.2L572.5 168.7L648.5 164.7M496.5 151.3L572.5 170.0L648.5 115.1M496.5 218.4L572.5 191.5L648.5 76.8M496.5 185.5L572.5 189.6L648.5 79.5M496.5 207.9L572.5 163.2L648.5 72.5M496.5 193.7L572.5 167.0L648.5 107.7M496.5 158.6L572.5 180.1L648.5 159.9M496.5 181.2L572.5 134.2L648.5 102.6M496.5 136.8L572.5 169.8L648.5 123.1M496.5 190.1L572.5 171.9L648.5 128.7M496.5 197.4L572.5 177.6L648.5 133.1M496.5 188.2L572.5 138.0L648.5 107.3M496.5 211.6L572.5 157.2L648.5 68.5M496.5 202.0L572.5 164.8L648.5 150.3M496.5 182.9L572.5 198.8L648.5 153.7M496.5 157.5L572.5 108.3L648.5 156.4M496.5 204.9L572.5 200.6L648.5 174.6M496.5 203.3L572.5 162.2L648.5 74.1M496.5 213.5L572.5 197.5L648.5 131.4M496.5 211.4L572.5 203.0L648.5 37.3M496.5 184.2L572.5 218.2L648.5 146.7M496.5 182.0L572.5 171.2L648.5 22.1M496.5 175.9L572.5 167.3L648.5 91.7M496.5 190.6L572.5 184.0L648.5 116.9M496.5 156.2L572.5 186.4L648.5 179.6M496.5 215.9L572.5 201.5L648.5 106.1M496.5 184.2L572.5 177.4L648.5 24.3M496.5 168.4L572.5 182.9L648.5 164.0M496.5 192.4L572.5 203.5L648.5 151.0M496.5 173.7L572.5 187.3L648.5 53.1M496.5 189.7L572.5 184.4L648.5 -12.5M496.5 193.5L572.5 198.6L648.5 78.2M496.5 179.9L572.5 142.2L648.5 191.8M496.5 199.5L572.5 201.3L648.5 149.8M496.5 184.0L572.5 101.8L648.5 124.4M496.5 169.2L572.5 140.5L648.5 135.1M496.5 207.5L572.5 187.4L648.5 13.8M496.5 166.9L572.5 118.8L648.5 135.3M496.5 152.0L572.5 141.1L648.5 179.2M496.5 134.4L572.5 136.2L648.5 31.1M496.5 191.6L572.5 172.1L648.5 52.9M496.5 152.9L572.5 196.3L648.5 26.8M496.5 216.6L572.5 210.6L648.5 128.2M496.5 211.2L572.5 169.3L648.5 34.7M496.5 181.6L572.5 179.5L648.5 100.8M496.5 207.6L572.5 189.5L648.5 -24.5M496.5 204.8L572.5 93.9L648.5 94.1M496.5 206.2L572.5 163.0L648.5 158.7M496.5 192.0L572.5 203.6L648.5 134.0M496.5 199.7L572.5 179.8L648.5 135.5M496.5 205.3L572.5 162.2L648.5 140.6M496.5 184.7L572.5 200.1L648.5 214.2M496.5 197.1L572.5 171.0L648.5 99.8M496.5 183.6L572.5 184.4L648.5 130.7M496.5 177.0L572.5 203.3L648.5 116.3M496.5 171.1L572.5 165.4L648.5 71.7M496.5 189.7L572.5 156.9L648.5 205.8M496.5 194.9L572.5 214.6L648.5 121.1M496.5 194.8L572.5 164.4L648.5 115.4M496.5 207.5L572.5 189.1L648.5 110.5M496.5 173.5L572.5 184.2L648.5 207.2M496.5 185.3L572.5 205.5L648.5 155.5M496.5 157.5L572.5 196.3L648.5 163.1M496.5 177.3L572.5 110.6L648.5 -5.5M496.5 196.6L572.5 156.0L648.5 113.6M496.5 163.3L572.5 180.3L648.5 144.9M496.5 191.8L572.5 174.2L648.5 147.9M496.5 185.9L572.5 193.5L648.5 164.8M496.5 173.6L572.5 179.3L648.5 62.8M496.5 178.8L572.5 194.0L648.5 127.4M496.5 202.1L572.5 169.8L648.5 177.0M496.5 167.8L572.5 198.3L648.5 136.4M496.5 175.5L572.5 171.4L648.5 66.4M496.5 184.5L572.5 153.5L648.5 145.1M496.5 189.4L572.5 183.8L648.5 66.8M496.5 178.9L572.5 171.4L648.5 172.1M496.5 213.1L572.5 169.1L648.5 39.2M496.5 149.7L572.5 188.2L648.5 148.7M496.5 221.8L572.5 202.3L648.5 135.0M496.5 206.4L572.5 142.6L648.5 81.7M496.5 205.9L572.5 174.1L648.5 116.2M496.5 175.8L572.5 183.3L648.5 59.1M496.5 183.4L572.5 135.0L648.5 174.6M496.5 176.7L572.5 193.3L648.5 26.3M496.5 209.7L572.5 187.5L648.5 105.2M496.5 154.1L572.5 191.2L648.5 105.8M496.5 163.1L572.5 196.7L648.5 162.7M496.5 219.1L572.5 179.7L648.5 181.5M496.5 180.5L572.5 189.9L648.5 148.6M496.5 217.8L572.5 128.4L648.5 96.0M496.5 198.6L572.5 190.3L648.5 98.4M496.5 172.6L572.5 135.6L648.5 143.9M496.5 184.5L572.5 194.5L648.5 156.6M496.5 211.2L572.5 183.6L648.5 127.0M496.5 200.3L572.5 175.1L648.5 93.0M496.5 158.6L572.5 194.1L648.5 137.2M496.5 181.4L572.5 156.7L648.5 127.7M496.5 168.5L572.5 188.9L648.5 71.7M496.5 215.7L572.5 190.3L648.5 90.8M496.5 173.6L572.5 156.2L648.5 87.8M496.5 180.9L572.5 191.8L648.5 81.4M496.5 206.0L572.5 158.3L648.5 121.7M496.5 148.1L572.5 142.3L648.5 180.6M496.5 186.3L572.5 152.6L648.5 130.8M496.5 164.3L572.5 127.8L648.5 138.0M496.5 197.6L572.5 185.3L648.5 102.4M496.5 176.2L572.5 135.1L648.5 148.2M496.5 173.1L572.5 187.7L648.5 112.4M496.5 188.0L572.5 205.0L648.5 106.9M496.5 182.3L572.5 180.2L648.5 163.7M496.5 178.1L572.5 100.2L648.5 128.5M496.5 187.3L572.5 196.0L648.5 63.1M496.5 210.1L572.5 110.1L648.5 131.5M496.5 177.4L572.5 202.2L648.5 198.4M496.5 187.9L572.5 148.9L648.5 89.4" fill="none" stroke="#dadada" stroke-width="0.22"/></g>
<path d="M59.10 232.4v-2.3M59.10 0.5v2.3M66.70 232.4v-2.3M66.70 0.5v2.3M74.30 232.4v-2.3M74.30 0.5v2.3M81.90 232.4v-2.3M81.90 0.5v2.3M89.50 232.4v-4.6M89.50 0.5v4.6M97.10 232.4v-2.3M97.10 0.5v2.3M104.70 232.4v-2.3M104.70 0.5v2.3M112.30 232.4v-2.3M112.30 0.5v2.3M119.90 232.4v-2.3M119.90 0.5v2.3M127.50 232.4v-2.3M127.50 0.5v2.3M135.10 232.4v-2.3M135.10 0.5v2.3M142.70 232.4v-2.3M142.70 0.5v2.3M150.30 232.4v-2.3M150.30 0.5v2.3M157.90 232.4v-2.3M157.90 0.5v2.3M165.50 232.4v-4.6M165.50 0.5v4.6M173.10 232.4v-2.3M173.10 0.5v2.3M180.70 232.4v-2.3M180.70 0.5v2.3M188.30 232.4v-2.3M188.30 0.5v2.3M195.90 232.4v-2.3M195.90 0.5v2.3M203.50 232.4v-2.3M203.50 0.5v2.3M211.10 232.4v-2.3M211.10 0.5v2.3M218.70 232.4v-2.3M218.70 0.5v2.3M226.30 232.4v-2.3M226.30 0.5v2.3M233.90 232.4v-2.3M233.90 0.5v2.3M241.50 232.4v-4.6M241.50 0.5v4.6M249.10 232.4v-2.3M249.10 0.5v2.3M256.70 232.4v-2.3M256.70 0.5v2.3M264.30 232.4v-2.3M264.30 0.5v2.3M271.90 232.4v-2.3M271.90 0.5v2.3M279.50 232.4v-2.3M279.50 0.5v2.3M287.10 232.4v-2.3M287.10 0.5v2.3M294.70 232.4v-2.3M294.70 0.5v2.3M302.30 232.4v-2.3M302.30 0.5v2.3M309.90 232.4v-2.3M309.90 0.5v2.3M317.50 232.4v-4.6M317.50 0.5v4.6M325.10 232.4v-2.3M325.10 0.5v2.3M332.70 232.4v-2.3M332.70 0.5v2.3M340.30 232.4v-2.3M340.30 0.5v2.3M347.90 232.4v-2.3M347.90 0.5v2.3M51.5 75.10h6.1M355.5 75.10h-6.1M51.5 185.05h3M355.5 185.05h-3M51.5 157.35h3M355.5 157.35h-3M51.5 137.70h3M355.5 137.70h-3M51.5 122.45h3M355.5 122.45h-3M51.5 110.00h3M355.5 110.00h-3M51.5 99.47h3M355.5 99.47h-3M51.5 90.34h3M355.5 90.34h-3M51.5 82.30h3M355.5 82.30h-3M51.5 27.75h3M355.5 27.75h-3" stroke="#111" stroke-width="1.1" fill="none" opacity="0.45"/>
<path d="M428.10 232.4v-2.3M428.10 0.5v2.3M435.70 232.4v-2.3M435.70 0.5v2.3M443.30 232.4v-2.3M443.30 0.5v2.3M450.90 232.4v-2.3M450.90 0.5v2.3M458.50 232.4v-4.6M458.50 0.5v4.6M466.10 232.4v-2.3M466.10 0.5v2.3M473.70 232.4v-2.3M473.70 0.5v2.3M481.30 232.4v-2.3M481.30 0.5v2.3M488.90 232.4v-2.3M488.90 0.5v2.3M496.50 232.4v-2.3M496.50 0.5v2.3M504.10 232.4v-2.3M504.10 0.5v2.3M511.70 232.4v-2.3M511.70 0.5v2.3M519.30 232.4v-2.3M519.30 0.5v2.3M526.90 232.4v-2.3M526.90 0.5v2.3M534.50 232.4v-4.6M534.50 0.5v4.6M542.10 232.4v-2.3M542.10 0.5v2.3M549.70 232.4v-2.3M549.70 0.5v2.3M557.30 232.4v-2.3M557.30 0.5v2.3M564.90 232.4v-2.3M564.90 0.5v2.3M572.50 232.4v-2.3M572.50 0.5v2.3M580.10 232.4v-2.3M580.10 0.5v2.3M587.70 232.4v-2.3M587.70 0.5v2.3M595.30 232.4v-2.3M595.30 0.5v2.3M602.90 232.4v-2.3M602.90 0.5v2.3M610.50 232.4v-4.6M610.50 0.5v4.6M618.10 232.4v-2.3M618.10 0.5v2.3M625.70 232.4v-2.3M625.70 0.5v2.3M633.30 232.4v-2.3M633.30 0.5v2.3M640.90 232.4v-2.3M640.90 0.5v2.3M648.50 232.4v-2.3M648.50 0.5v2.3M656.10 232.4v-2.3M656.10 0.5v2.3M663.70 232.4v-2.3M663.70 0.5v2.3M671.30 232.4v-2.3M671.30 0.5v2.3M678.90 232.4v-2.3M678.90 0.5v2.3M686.50 232.4v-4.6M686.50 0.5v4.6M694.10 232.4v-2.3M694.10 0.5v2.3M701.70 232.4v-2.3M701.70 0.5v2.3M709.30 232.4v-2.3M709.30 0.5v2.3M716.90 232.4v-2.3M716.90 0.5v2.3M420.5 170.46h6.1M724.5 170.46h-6.1M420.5 108.52h6.1M724.5 108.52h-6.1M420.5 46.58h6.1M724.5 46.58h-6.1M420.5 216.92h3M724.5 216.92h-3M420.5 201.43h3M724.5 201.43h-3M420.5 185.94h3M724.5 185.94h-3M420.5 154.98h3M724.5 154.98h-3M420.5 139.49h3M724.5 139.49h-3M420.5 124.01h3M724.5 124.01h-3M420.5 93.03h3M724.5 93.03h-3M420.5 77.55h3M724.5 77.55h-3M420.5 62.06h3M724.5 62.06h-3M420.5 31.09h3M724.5 31.09h-3M420.5 15.61h3M724.5 15.61h-3" stroke="#111" stroke-width="1.1" fill="none" opacity="0.45"/>
<line x1="89.5" y1="34.5" x2="165.5" y2="34.5" stroke="#222" stroke-width="1.0"/>
<path d="M122.9 34.5L127.5 29.9L132.1 34.5L127.5 39.1Z" fill="none" stroke="#000" stroke-width="1.5"/>
<line x1="124.5" y1="34.5" x2="130.5" y2="34.5" stroke="#222" stroke-width="1"/>
<line x1="127.5" y1="31.5" x2="127.5" y2="37.5" stroke="#222" stroke-width="1"/>
<line x1="165.5" y1="93.5" x2="241.5" y2="93.5" stroke="#222" stroke-width="1.0"/>
<line x1="203.5" y1="84.8" x2="203.5" y2="102.8" stroke="#222" stroke-width="1.0"/>
<path d="M198.9 93.5L203.5 88.9L208.1 93.5L203.5 98.1Z" fill="none" stroke="#000" stroke-width="1.5"/>
<line x1="200.5" y1="93.5" x2="206.5" y2="93.5" stroke="#222" stroke-width="1"/>
<line x1="203.5" y1="90.5" x2="203.5" y2="96.5" stroke="#222" stroke-width="1"/>
<line x1="241.5" y1="116.5" x2="317.5" y2="116.5" stroke="#222" stroke-width="1.0"/>
<line x1="279.5" y1="103.7" x2="279.5" y2="131.3" stroke="#222" stroke-width="1.0"/>
<path d="M274.9 116.5L279.5 111.9L284.1 116.5L279.5 121.1Z" fill="none" stroke="#000" stroke-width="1.5"/>
<line x1="276.5" y1="116.5" x2="282.5" y2="116.5" stroke="#222" stroke-width="1"/>
<line x1="279.5" y1="113.5" x2="279.5" y2="119.5" stroke="#222" stroke-width="1"/>
<g clip-path="url(#c0)"><line x1="89.5" y1="160.5" x2="165.5" y2="160.5" stroke="#b5141e" stroke-width="0.7"/><line x1="127.5" y1="128.8" x2="127.5" y2="202.4" stroke="#b5141e" stroke-width="0.7"/><line x1="165.5" y1="209.9" x2="241.5" y2="209.9" stroke="#b5141e" stroke-width="0.7"/><line x1="203.5" y1="187.0" x2="203.5" y2="240.0" stroke="#b5141e" stroke-width="0.7"/><line x1="241.5" y1="183.9" x2="317.5" y2="183.9" stroke="#b5141e" stroke-width="0.7"/><line x1="279.5" y1="156.9" x2="279.5" y2="211.7" stroke="#b5141e" stroke-width="0.7"/><polyline points="127.5,160.5 203.5,209.9 279.5,183.9" fill="none" stroke="#b5141e" stroke-width="1.25" stroke-dasharray="6 5.6"/><circle cx="127.5" cy="160.5" r="4.8" fill="#b5141e"/><circle cx="203.5" cy="209.9" r="4.8" fill="#b5141e"/><circle cx="279.5" cy="183.9" r="4.8" fill="#b5141e"/></g>
<g clip-path="url(#c1)"><line x1="458.5" y1="183.6" x2="534.5" y2="183.6" stroke="#b5141e" stroke-width="0.7"/><line x1="496.5" y1="148.9" x2="496.5" y2="207.7" stroke="#b5141e" stroke-width="0.7"/><line x1="534.5" y1="176.5" x2="610.5" y2="176.5" stroke="#b5141e" stroke-width="0.7"/><line x1="572.5" y1="142.6" x2="572.5" y2="197.8" stroke="#b5141e" stroke-width="0.7"/><line x1="610.5" y1="118.3" x2="686.5" y2="118.3" stroke="#b5141e" stroke-width="0.7"/><line x1="648.5" y1="20.9" x2="648.5" y2="169.3" stroke="#b5141e" stroke-width="0.7"/><polyline points="496.5,183.6 572.5,176.5 648.5,118.3" fill="none" stroke="#b5141e" stroke-width="1.25" stroke-dasharray="6 5.6"/><circle cx="496.5" cy="183.6" r="4.8" fill="#b5141e"/><circle cx="572.5" cy="176.5" r="4.8" fill="#b5141e"/><circle cx="648.5" cy="118.3" r="4.8" fill="#b5141e"/></g>
<rect x="51.5" y="0.5" width="304.0" height="232" fill="none" stroke="#111" stroke-width="1.25"/>
<rect x="420.5" y="0.5" width="304.0" height="232" fill="none" stroke="#111" stroke-width="1.25"/>
<path d="M90.50 250.80V241.90M91.00 241.80Q89.90 243.20 88.50 243.80" fill="none" stroke="#000" stroke-width="1.3"/>
<text transform="translate(94.71 250.67) scale(1.012 1)" font-size="12.96">9</text>
<rect x="77.1" y="246.45" width="7.6" height="1.2" fill="#000"/>
<text transform="translate(162.47 250.67) scale(1.122 1)" font-size="12.96">20</text>
<rect x="153.1" y="246.45" width="7.6" height="1.2" fill="#000"/>
<text transform="translate(238.53 250.80) scale(1.020 1)" font-size="13.14">2</text>
<path d="M250.80 250.80V241.90M251.30 241.80Q250.20 243.20 249.00 243.80" fill="none" stroke="#000" stroke-width="1.3"/>
<rect x="229.3" y="246.45" width="7.6" height="1.2" fill="#000"/>
<text transform="translate(314.80 250.80) scale(1.062 1)" font-size="13.14">22</text>
<rect x="305.3" y="246.45" width="7.6" height="1.2" fill="#000"/>
<text transform="translate(193.14 266.90) scale(0.905 1)" font-size="13.19" stroke="#000" stroke-width="0.3">M</text>
<path d="M204.3 264.2V268.6Q204.3 270.9 206.25 270.9Q208.2 270.9 208.2 268.6V264.2M209.4 264.2L211.25 270.6L213.1 264.2" fill="none" stroke="#000" stroke-width="1.15"/>
<path d="M459.50 250.80V241.90M460.00 241.80Q458.90 243.20 457.50 243.80" fill="none" stroke="#000" stroke-width="1.3"/>
<text transform="translate(463.71 250.67) scale(1.012 1)" font-size="12.96">9</text>
<rect x="446.1" y="246.45" width="7.6" height="1.2" fill="#000"/>
<text transform="translate(531.47 250.67) scale(1.122 1)" font-size="12.96">20</text>
<rect x="522.1" y="246.45" width="7.6" height="1.2" fill="#000"/>
<text transform="translate(607.53 250.80) scale(1.020 1)" font-size="13.14">2</text>
<path d="M619.80 250.80V241.90M620.30 241.80Q619.20 243.20 618.00 243.80" fill="none" stroke="#000" stroke-width="1.3"/>
<rect x="598.3" y="246.45" width="7.6" height="1.2" fill="#000"/>
<text transform="translate(683.80 250.80) scale(1.062 1)" font-size="13.14">22</text>
<rect x="674.3" y="246.45" width="7.6" height="1.2" fill="#000"/>
<text transform="translate(562.14 266.90) scale(0.905 1)" font-size="13.19" stroke="#000" stroke-width="0.3">M</text>
<path d="M573.3 264.2V268.6Q573.3 270.9 575.25 270.9Q577.2 270.9 577.2 268.6V264.2M578.4 264.2L580.25 270.6L582.1 264.2" fill="none" stroke="#000" stroke-width="1.15"/>
<path d="M27.40 80.70V71.60M27.90 71.50Q26.80 72.90 25.30 73.50" fill="none" stroke="#000" stroke-width="1.3"/>
<text transform="translate(30.50 80.57) scale(1.138 1)" font-size="13.24">00</text>
<path d="M35.60 232.70V223.80M36.10 223.70Q35.00 225.10 33.30 225.70" fill="none" stroke="#000" stroke-width="1.3"/>
<text transform="translate(38.85 232.57) scale(1.224 1)" font-size="13.24">0</text>
<text transform="translate(395.93 51.77) scale(1.106 1)" font-size="12.96">0.6</text>
<text transform="translate(395.93 113.87) scale(1.093 1)" font-size="12.96">0.4</text>
<text transform="translate(395.92 175.37) scale(1.110 1)" font-size="12.96">0.2</text>
<text transform="translate(395.93 232.47) scale(1.090 1)" font-size="13.10">0.0</text>
<text transform="translate(12.00 136.75) rotate(-90) scale(0.813 1)" font-size="12.90" stroke="#000" stroke-width="0.3">W</text>
<text transform="translate(15.91 127.28) rotate(-90) scale(1.004 1)" font-size="9.44" stroke="#000" stroke-width="0.3">0</text>
<text transform="translate(12.70 115.04) rotate(-90) scale(0.942 1)" font-size="15.72" stroke="#000" stroke-width="0.3">[Å]</text>
<text transform="translate(384.40 153.35) rotate(-90) scale(0.821 1)" font-size="11.59" stroke="#000" stroke-width="0.3">W</text>
<text transform="translate(388.51 144.37) rotate(-90) scale(1.073 1)" font-size="8.73" stroke="#000" stroke-width="0.3">0,z&gt;6</text>
<line x1="374.9" y1="113.2" x2="387.5" y2="119.8" stroke="#000" stroke-width="1.05"/>
<text transform="translate(384.90 112.55) rotate(-90) scale(0.851 1)" font-size="12.32" stroke="#000" stroke-width="0.3">W</text>
<text transform="translate(388.51 102.57) rotate(-90) scale(1.064 1)" font-size="8.73" stroke="#000" stroke-width="0.3">0,z&lt;6</text>
<rect x="173.0" y="13.0" width="170" height="24.2" fill="#fff" stroke="#111" stroke-width="1.1"/>
<path d="M179.5 20.2L182.1 17.6L184.7 20.2L182.1 22.8Z" fill="none" stroke="#000" stroke-width="1.2"/>
<circle cx="182.2" cy="30.05" r="2.75" fill="#b5141e"/>
<g><text transform="translate(188.19 23.10) scale(1.005 1)" font-size="9.10" stroke="#000" stroke-width="0.36">Santos</text><text transform="translate(220.04 23.10) scale(1.113 1)" font-size="9.10" stroke="#000" stroke-width="0.36">et</text><text transform="translate(233.36 23.10) scale(1.075 1)" font-size="9.10" stroke="#000" stroke-width="0.36">al.</text><text transform="translate(247.50 23.10) scale(1.103 1)" font-size="9.10" stroke="#000" stroke-width="0.36">(2020)</text><text transform="translate(280.76 23.10) scale(1.071 1)" font-size="9.10" stroke="#000" stroke-width="0.36">at</text><text transform="translate(293.70 23.10) scale(1.099 1)" font-size="9.10" stroke="#000" stroke-width="0.36">z</text><text transform="translate(313.33 23.10) scale(1.039 1)" font-size="9.10" stroke="#000" stroke-width="0.36">2</text><text transform="translate(334.30 23.10) scale(1.099 1)" font-size="9.10" stroke="#000" stroke-width="0.36">6</text><text transform="translate(188.59 32.80) scale(0.921 1)" font-size="9.10" stroke="#000" stroke-width="0.36">This</text><text transform="translate(208.53 32.80) scale(0.994 1)" font-size="9.10" stroke="#000" stroke-width="0.36">study</text><text transform="translate(235.06 32.80) scale(1.071 1)" font-size="9.10" stroke="#000" stroke-width="0.36">at</text><text transform="translate(247.90 32.80) scale(1.099 1)" font-size="9.10" stroke="#000" stroke-width="0.36">z</text><text transform="translate(268.31 32.80) scale(1.082 1)" font-size="9.10" stroke="#000" stroke-width="0.36">6.0</text><text transform="translate(296.66 32.80) scale(1.078 1)" font-size="9.10" stroke="#000" stroke-width="0.36">8.2</text></g>
<path d="M303.2 21.0C304.6 18.6 306.0 19.2 306.3 20.0S308.0 21.6 308.9 19.2" fill="none" stroke="#000" stroke-width="1.15"/>
<rect x="323.9" y="19.7" width="5.0" height="1.2" fill="#000"/>
<rect x="286.9" y="29.6" width="4.9" height="1.2" fill="#000"/>
<rect x="257.9" y="28.6" width="5.1" height="1.15" fill="#000"/><rect x="257.9" y="30.9" width="5.1" height="1.15" fill="#000"/>
</svg></body></html>
